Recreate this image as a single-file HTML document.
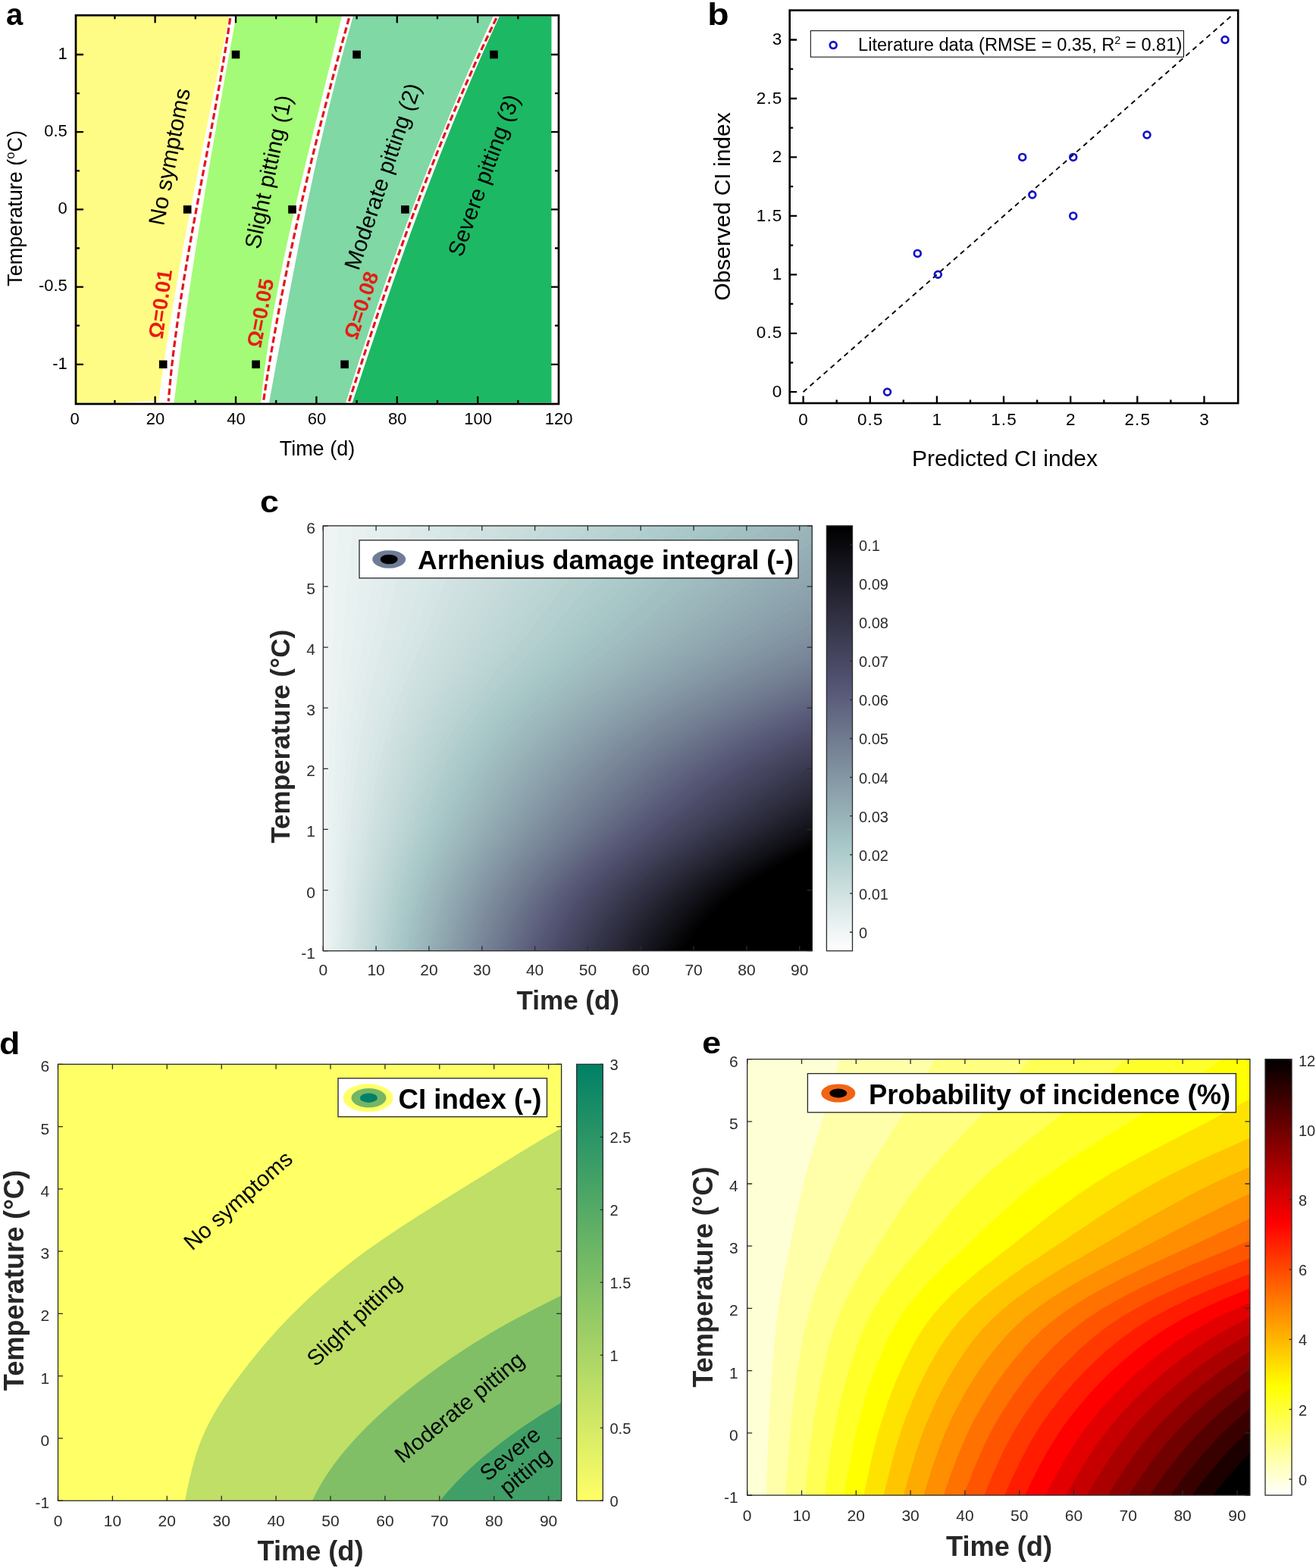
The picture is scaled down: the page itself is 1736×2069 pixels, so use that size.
<!DOCTYPE html>
<html lang="en"><head><meta charset="utf-8"><title>Chilling injury model figure</title>
<style>html,body{margin:0;padding:0;background:#fff}svg{display:block}text{font-family:"Liberation Sans",sans-serif}</style>
</head><body>
<svg xmlns="http://www.w3.org/2000/svg" width="1736" height="2069" viewBox="0 0 1736 2069">
<rect width="1736" height="2069" fill="#fff"/>
<defs>
<linearGradient id="gc" x1="0" y1="1" x2="0" y2="0"><stop offset="0.0000" stop-color="#ffffff"/><stop offset="0.2500" stop-color="#a7c7c7"/><stop offset="0.6250" stop-color="#545474"/><stop offset="1.0000" stop-color="#000000"/></linearGradient>
<linearGradient id="gd" x1="0" y1="1" x2="0" y2="0"><stop offset="0.0000" stop-color="#ffff66"/><stop offset="1.0000" stop-color="#008066"/></linearGradient>
<linearGradient id="ge" x1="0" y1="1" x2="0" y2="0"><stop offset="0.0000" stop-color="#ffffff"/><stop offset="0.2500" stop-color="#ffff00"/><stop offset="0.6250" stop-color="#ff0000"/><stop offset="1.0000" stop-color="#000000"/></linearGradient>
</defs>
<g id="panel-a">
<polygon points="100.5,21.5 100.5,41.9 100.5,62.3 100.5,82.7 100.5,103.1 100.5,123.5 100.5,143.9 100.5,164.3 100.5,184.7 100.5,205.1 100.5,225.5 100.5,245.9 100.5,266.3 100.5,286.7 100.5,307.1 100.5,327.5 100.5,347.9 100.5,368.3 100.5,388.7 100.5,409.1 100.5,429.5 100.5,449.9 100.5,470.3 100.5,490.7 100.5,511.1 100.5,531.5 209.1,531.5 211.8,511.1 214.6,490.7 217.6,470.3 220.7,449.9 223.9,429.5 227.3,409.1 230.7,388.7 234.3,368.3 237.9,347.9 241.6,327.5 245.4,307.1 249.3,286.7 253.2,266.3 257.2,245.9 261.2,225.5 265.3,205.1 269.4,184.7 273.5,164.3 277.6,143.9 281.7,123.5 285.8,103.1 289.9,82.7 294,62.3 298.1,41.9 302.1,21.5" fill="#fffc86"/>
<polygon points="311.5,21.5 307.7,41.9 304,62.3 300.3,82.7 296.6,103.1 293,123.5 289.3,143.9 285.7,164.3 282.2,184.7 278.6,205.1 275.2,225.5 271.7,245.9 268.3,266.3 265,286.7 261.7,307.1 258.4,327.5 255.2,347.9 252.1,368.3 249,388.7 246,409.1 243.1,429.5 240.2,449.9 237.5,470.3 234.8,490.7 232.2,511.1 229.6,531.5 344,531.5 346.2,511.1 348.6,490.7 351.4,470.3 354.4,449.9 357.7,429.5 361.2,409.1 365,388.7 368.9,368.3 373,347.9 377.3,327.5 381.8,307.1 386.4,286.7 391.1,266.3 395.9,245.9 400.8,225.5 405.8,205.1 410.8,184.7 415.8,164.3 420.9,143.9 426,123.5 431,103.1 436.1,82.7 441,62.3 445.9,41.9 450.8,21.5" fill="#a4fb77"/>
<polygon points="465.8,21.5 460,41.9 454.4,62.3 448.9,82.7 443.6,103.1 438.5,123.5 433.4,143.9 428.6,164.3 423.8,184.7 419.1,205.1 414.6,225.5 410.2,245.9 405.8,266.3 401.6,286.7 397.4,307.1 393.3,327.5 389.3,347.9 385.4,368.3 381.4,388.7 377.6,409.1 373.8,429.5 370,449.9 366.2,470.3 362.4,490.7 358.7,511.1 354.9,531.5 456.2,531.5 462.6,511.1 469,490.7 475.6,470.3 482.3,449.9 489,429.5 495.9,409.1 502.9,388.7 510,368.3 517.3,347.9 524.6,327.5 532.1,307.1 539.7,286.7 547.4,266.3 555.3,245.9 563.2,225.5 571.4,205.1 579.6,184.7 588,164.3 596.5,143.9 605.2,123.5 614,103.1 623,82.7 632.1,62.3 641.3,41.9 650.8,21.5" fill="#80d8a5"/>
<polygon points="658.8,21.5 649.4,41.9 640.2,62.3 631.2,82.7 622.4,103.1 613.7,123.5 605.1,143.9 596.8,164.3 588.5,184.7 580.4,205.1 572.5,225.5 564.6,245.9 556.9,266.3 549.3,286.7 541.8,307.1 534.4,327.5 527.1,347.9 519.9,368.3 512.8,388.7 505.7,409.1 498.8,429.5 491.9,449.9 485,470.3 478.2,490.7 471.5,511.1 464.8,531.5 727.5,531.5 727.5,511.1 727.5,490.7 727.5,470.3 727.5,449.9 727.5,429.5 727.5,409.1 727.5,388.7 727.5,368.3 727.5,347.9 727.5,327.5 727.5,307.1 727.5,286.7 727.5,266.3 727.5,245.9 727.5,225.5 727.5,205.1 727.5,184.7 727.5,164.3 727.5,143.9 727.5,123.5 727.5,103.1 727.5,82.7 727.5,62.3 727.5,41.9 727.5,21.5" fill="#1db863"/>
<polygon points="150,531.8 209,531.8 209.5,529 190,529.6" fill="#fff"/>
<path d="M303.7 24 L300.7 44.2 L297.5 64.4 L294.1 84.7 L290.7 104.9 L287.1 125.1 L283.5 145.3 L279.7 165.5 L276 185.8 L272.2 206 L268.3 226.2 L264.5 246.4 L260.8 266.6 L257 286.9 L253.3 307.1 L249.7 327.3 L246.2 347.5 L242.8 367.7 L239.6 388 L236.5 408.2 L233.6 428.4 L230.9 448.6 L228.3 468.8 L226 489.1 L224 509.3 L222.2 529.5" fill="none" stroke="#e3141c" stroke-width="3.2" stroke-dasharray="8.5 4.2"/>
<path d="M460.4 24 L454.8 44.2 L449.2 64.4 L443.7 84.7 L438.3 104.9 L433 125.1 L427.7 145.3 L422.5 165.5 L417.4 185.8 L412.4 206 L407.5 226.2 L402.7 246.4 L398 266.6 L393.4 286.9 L388.9 307.1 L384.5 327.3 L380.2 347.5 L376.1 367.7 L372 388 L368.1 408.2 L364.4 428.4 L360.7 448.6 L357.2 468.8 L353.8 489.1 L350.6 509.3 L347.5 529.5" fill="none" stroke="#e3141c" stroke-width="3.2" stroke-dasharray="8.5 4.2"/>
<path d="M654.7 24 L645.1 44.2 L635.6 64.4 L626.4 84.7 L617.4 104.9 L608.5 125.1 L599.8 145.3 L591.3 165.5 L583 185.8 L574.8 206 L566.8 226.2 L558.9 246.4 L551.2 266.6 L543.6 286.9 L536.1 307.1 L528.8 327.3 L521.5 347.5 L514.4 367.7 L507.4 388 L500.4 408.2 L493.6 428.4 L486.8 448.6 L480.2 468.8 L473.6 489.1 L467 509.3 L460.5 529.5" fill="none" stroke="#e3141c" stroke-width="3.2" stroke-dasharray="8.5 4.2"/>
<rect x="209.9" y="475.5" width="10.6" height="10.6" fill="#000"/>
<rect x="241.9" y="271.1" width="10.6" height="10.6" fill="#000"/>
<rect x="305.7" y="66.7" width="10.6" height="10.6" fill="#000"/>
<rect x="332.3" y="475.5" width="10.6" height="10.6" fill="#000"/>
<rect x="380.2" y="271.1" width="10.6" height="10.6" fill="#000"/>
<rect x="465.3" y="66.7" width="10.6" height="10.6" fill="#000"/>
<rect x="449.3" y="475.5" width="10.6" height="10.6" fill="#000"/>
<rect x="529.1" y="271.1" width="10.6" height="10.6" fill="#000"/>
<rect x="646.2" y="66.7" width="10.6" height="10.6" fill="#000"/>
<rect x="100.0" y="20.2" width="637.0" height="512.8" fill="none" stroke="#000" stroke-width="2.7"/>
<path d="M151.4 533v-5M151.4 20.2v5M204.6 533v-10M204.6 20.2v10M257.8 533v-5M257.8 20.2v5M311 533v-10M311 20.2v10M364.2 533v-5M364.2 20.2v5M417.4 533v-10M417.4 20.2v10M470.6 533v-5M470.6 20.2v5M523.8 533v-10M523.8 20.2v10M577 533v-5M577 20.2v5M630.2 533v-10M630.2 20.2v10M683.4 533v-5M683.4 20.2v5M100 480.8h10M737 480.8h-10M100 429.7h5M737 429.7h-5M100 378.6h10M737 378.6h-10M100 327.5h5M737 327.5h-5M100 276.4h10M737 276.4h-10M100 225.3h5M737 225.3h-5M100 174.2h10M737 174.2h-10M100 123.1h5M737 123.1h-5M100 72h10M737 72h-10" stroke="#000" stroke-width="2.3" fill="none"/>
<text x="98.7" y="560.2" font-size="22" text-anchor="middle" fill="#000">0</text>
<text x="205.1" y="560.2" font-size="22" text-anchor="middle" fill="#000">20</text>
<text x="311.5" y="560.2" font-size="22" text-anchor="middle" fill="#000">40</text>
<text x="417.9" y="560.2" font-size="22" text-anchor="middle" fill="#000">60</text>
<text x="524.3" y="560.2" font-size="22" text-anchor="middle" fill="#000">80</text>
<text x="630.7" y="560.2" font-size="22" text-anchor="middle" fill="#000">100</text>
<text x="737.1" y="560.2" font-size="22" text-anchor="middle" fill="#000">120</text>
<text x="88.8" y="77.8" font-size="22" text-anchor="end" fill="#000">1</text>
<text x="88.8" y="180" font-size="22" text-anchor="end" fill="#000">0.5</text>
<text x="88.8" y="282.2" font-size="22" text-anchor="end" fill="#000">0</text>
<text x="88.8" y="384.4" font-size="22" text-anchor="end" fill="#000">-0.5</text>
<text x="88.8" y="486.6" font-size="22" text-anchor="end" fill="#000">-1</text>
<text x="418.4" y="600.6" font-size="27" text-anchor="middle" fill="#000">Time (d)</text>
<text transform="translate(28.6 274.9) rotate(-90)" font-size="27" text-anchor="middle">Temperature (<tspan font-size="16.5" dy="-9.5">o</tspan><tspan dy="9.5">C)</tspan></text>
<text x="8.1" y="33" font-size="40" font-weight="bold" fill="#000">a</text>
<text transform="translate(216 298.8) rotate(-79.00)" font-size="30" fill="#000">No symptoms</text>
<text transform="translate(342.4 329.8) rotate(-78.00)" font-size="29.7" fill="#000">Slight pitting (1)</text>
<text transform="translate(473 357.9) rotate(-71.25)" font-size="29.7" fill="#000">Moderate pitting (2)</text>
<text transform="translate(609.2 340.3) rotate(-70.00)" font-size="29.5" fill="#000">Severe pitting (3)</text>
<text transform="translate(214.5 447.7) rotate(-82.00)" font-size="27.5" font-weight="bold" fill="#e81c14">Ω=0.01</text>
<text transform="translate(343.9 459.8) rotate(-79.00)" font-size="27.5" font-weight="bold" fill="#e81c14">Ω=0.05</text>
<text transform="translate(471.1 449.2) rotate(-71.75)" font-size="27.5" font-weight="bold" fill="#e81c14">Ω=0.08</text>
</g>
<g id="panel-b">
<path d="M1059.6 517.2L1626.4 19.2" stroke="#000" stroke-width="1.9" stroke-dasharray="6.5 5.5" fill="none"/>
<rect x="1069.3" y="40.6" width="492.2" height="34.6" fill="#fff" stroke="#000" stroke-width="1"/>
<circle cx="1099.2" cy="59.6" r="4.4" fill="#fff" stroke="#1212c4" stroke-width="2.7"/>
<text x="1132" y="66.8" font-size="23.65">Literature data (RMSE = 0.35, R<tspan font-size="14.5" dy="-9">2</tspan><tspan dy="9"> = 0.81)</tspan></text>
<circle cx="1170.5" cy="517.2" r="4.4" fill="none" stroke="#1212c4" stroke-width="2.7"/>
<circle cx="1210.3" cy="334.4" r="4.4" fill="none" stroke="#1212c4" stroke-width="2.7"/>
<circle cx="1237.3" cy="362.3" r="4.4" fill="none" stroke="#1212c4" stroke-width="2.7"/>
<circle cx="1348.7" cy="207.4" r="4.4" fill="none" stroke="#1212c4" stroke-width="2.7"/>
<circle cx="1361.8" cy="257" r="4.4" fill="none" stroke="#1212c4" stroke-width="2.7"/>
<circle cx="1415.7" cy="207.4" r="4.4" fill="none" stroke="#1212c4" stroke-width="2.7"/>
<circle cx="1415.7" cy="284.9" r="4.4" fill="none" stroke="#1212c4" stroke-width="2.7"/>
<circle cx="1513" cy="178" r="4.4" fill="none" stroke="#1212c4" stroke-width="2.7"/>
<circle cx="1616" cy="52.5" r="4.4" fill="none" stroke="#1212c4" stroke-width="2.7"/>
<rect x="1041.7" y="13.6" width="591.5" height="518.4" fill="none" stroke="#000" stroke-width="2.6"/>
<path d="M1059.6 532v-9.5M1041.7 517.2h9.5M1103.7 532v-4.5M1041.7 478.5h4.5M1147.8 532v-9.5M1041.7 439.8h9.5M1191.8 532v-4.5M1041.7 401h4.5M1235.9 532v-9.5M1041.7 362.3h9.5M1280 532v-4.5M1041.7 323.6h4.5M1324 532v-9.5M1041.7 284.9h9.5M1368.1 532v-4.5M1041.7 246.1h4.5M1412.2 532v-9.5M1041.7 207.4h9.5M1456.3 532v-4.5M1041.7 168.7h4.5M1500.3 532v-9.5M1041.7 130h9.5M1544.4 532v-4.5M1041.7 91.2h4.5M1588.5 532v-9.5M1041.7 52.5h9.5" stroke="#000" stroke-width="2.3" fill="none"/>
<text x="1060.1" y="560.6" font-size="22.5" text-anchor="middle" fill="#000" letter-spacing="1.1">0</text>
<text x="1032.4" y="523.8" font-size="22.5" text-anchor="end" fill="#000" letter-spacing="1.1">0</text>
<text x="1148.2" y="560.6" font-size="22.5" text-anchor="middle" fill="#000" letter-spacing="1.1">0.5</text>
<text x="1032.4" y="446.4" font-size="22.5" text-anchor="end" fill="#000" letter-spacing="1.1">0.5</text>
<text x="1236.4" y="560.6" font-size="22.5" text-anchor="middle" fill="#000" letter-spacing="1.1">1</text>
<text x="1032.4" y="368.9" font-size="22.5" text-anchor="end" fill="#000" letter-spacing="1.1">1</text>
<text x="1324.5" y="560.6" font-size="22.5" text-anchor="middle" fill="#000" letter-spacing="1.1">1.5</text>
<text x="1032.4" y="291.5" font-size="22.5" text-anchor="end" fill="#000" letter-spacing="1.1">1.5</text>
<text x="1412.7" y="560.6" font-size="22.5" text-anchor="middle" fill="#000" letter-spacing="1.1">2</text>
<text x="1032.4" y="214" font-size="22.5" text-anchor="end" fill="#000" letter-spacing="1.1">2</text>
<text x="1500.8" y="560.6" font-size="22.5" text-anchor="middle" fill="#000" letter-spacing="1.1">2.5</text>
<text x="1032.4" y="136.6" font-size="22.5" text-anchor="end" fill="#000" letter-spacing="1.1">2.5</text>
<text x="1589" y="560.6" font-size="22.5" text-anchor="middle" fill="#000" letter-spacing="1.1">3</text>
<text x="1032.4" y="59.1" font-size="22.5" text-anchor="end" fill="#000" letter-spacing="1.1">3</text>
<text x="1325.5" y="614.5" font-size="30" text-anchor="middle" fill="#000">Predicted CI index</text>
<text x="0" y="0" transform="translate(963 272.5) rotate(-90)" font-size="30" text-anchor="middle" fill="#000">Observed CI index</text>
<text transform="translate(933.2 33.2) scale(1.16 1)" font-size="40" font-weight="bold">b</text>
</g>
<g id="panel-c">
<rect x="426.3" y="693.8" width="644.9" height="560.9" fill="#eef4f4"/>
<polygon points="430.3,1254.7 430.4,1234.7 430.5,1214.6 430.7,1194.6 430.9,1174.6 431.2,1154.5 431.4,1134.5 431.8,1114.5 432.1,1094.4 432.5,1074.4 432.8,1054.4 433.1,1034.3 433.5,1014.3 434,994.3 434.5,974.2 435.1,954.2 435.8,934.2 436.5,914.2 437.4,894.1 438.2,874.1 439,854.1 439.9,834 440.6,814 441.4,794 442.2,773.9 443,753.9 443.9,733.9 444.9,713.8 445.9,693.8 1071.2,693.8 1071.2,1254.7" fill="#ebf2f2"/>
<polygon points="434.2,1254.7 434.5,1234.7 434.8,1214.6 435.1,1194.6 435.5,1174.6 436,1154.5 436.6,1134.5 437.3,1114.5 437.9,1094.4 438.6,1074.4 439.3,1054.4 440,1034.3 440.8,1014.3 441.7,994.3 442.7,974.2 443.9,954.2 445.3,934.2 446.8,914.2 448.4,894.1 450.1,874.1 451.8,854.1 453.4,834 455,814 456.5,794 458.1,773.9 459.8,753.9 461.6,733.9 463.5,713.8 465.5,693.8 1071.2,693.8 1071.2,1254.7" fill="#e8f0f0"/>
<polygon points="438.2,1254.7 438.6,1234.7 439,1214.6 439.5,1194.6 440.1,1174.6 440.9,1154.5 441.7,1134.5 442.7,1114.5 443.7,1094.4 444.8,1074.4 445.8,1054.4 446.8,1034.3 448,1014.3 449.4,994.3 451,974.2 452.8,954.2 454.8,934.2 457,914.2 459.5,894.1 462,874.1 464.5,854.1 467,834 469.3,814 471.6,794 474,773.9 476.5,753.9 479.2,733.9 482,713.8 485.1,693.8 1071.2,693.8 1071.2,1254.7" fill="#e5efef"/>
<polygon points="442.1,1254.7 442.6,1234.7 443.2,1214.6 443.9,1194.6 444.7,1174.6 445.7,1154.5 446.9,1134.5 448.2,1114.5 449.6,1094.4 450.9,1074.4 452.3,1054.4 453.7,1034.3 455.3,1014.3 457.1,994.3 459.2,974.2 461.6,954.2 464.3,934.2 467.3,914.2 470.5,894.1 473.9,874.1 477.3,854.1 480.5,834 483.6,814 486.7,794 489.8,773.9 493.2,753.9 496.8,733.9 500.6,713.8 504.7,693.8 1071.2,693.8 1071.2,1254.7" fill="#e3eded"/>
<polygon points="446.1,1254.7 446.7,1234.7 447.4,1214.6 448.3,1194.6 449.3,1174.6 450.6,1154.5 452,1134.5 453.7,1114.5 455.4,1094.4 457.1,1074.4 458.7,1054.4 460.5,1034.3 462.5,1014.3 464.8,994.3 467.4,974.2 470.4,954.2 473.8,934.2 477.5,914.2 481.6,894.1 485.8,874.1 490,854.1 494.1,834 498,814 501.8,794 505.7,773.9 509.9,753.9 514.4,733.9 519.2,713.8 524.3,693.8 1071.2,693.8 1071.2,1254.7" fill="#e0ebeb"/>
<polygon points="450,1254.7 450.8,1234.7 451.7,1214.6 452.7,1194.6 453.9,1174.6 455.4,1154.5 457.2,1134.5 459.2,1114.5 461.2,1094.4 463.2,1074.4 465.2,1054.4 467.4,1034.3 469.8,1014.3 472.5,994.3 475.6,974.2 479.2,954.2 483.3,934.2 487.8,914.2 492.6,894.1 497.7,874.1 502.8,854.1 507.6,834 512.3,814 516.9,794 521.6,773.9 526.7,753.9 532.1,733.9 537.8,713.8 543.9,693.8 1071.2,693.8 1071.2,1254.7" fill="#dde9e9"/>
<polygon points="454,1254.7 454.9,1234.7 455.9,1214.6 457,1194.6 458.5,1174.6 460.3,1154.5 462.3,1134.5 464.6,1114.5 467,1094.4 469.4,1074.4 471.7,1054.4 474.2,1034.3 477,1014.3 480.2,994.3 483.9,974.2 488,954.2 492.7,934.2 498,914.2 503.7,894.1 509.6,874.1 515.5,854.1 521.2,834 526.6,814 532,794 537.5,773.9 543.4,753.9 549.7,733.9 556.4,713.8 563.5,693.8 1071.2,693.8 1071.2,1254.7" fill="#dae8e8"/>
<polygon points="458,1254.7 459,1234.7 460.1,1214.6 461.4,1194.6 463.1,1174.6 465.1,1154.5 467.5,1134.5 470.1,1114.5 472.8,1094.4 475.5,1074.4 478.2,1054.4 481.1,1034.3 484.3,1014.3 487.9,994.3 492.1,974.2 496.9,954.2 502.2,934.2 508.2,914.2 514.7,894.1 521.5,874.1 528.3,854.1 534.7,834 540.9,814 547.1,794 553.4,773.9 560.1,753.9 567.3,733.9 575,713.8 583.1,693.8 1071.2,693.8 1071.2,1254.7" fill="#d7e6e6"/>
<polygon points="461.9,1254.7 463.1,1234.7 464.3,1214.6 465.8,1194.6 467.7,1174.6 470,1154.5 472.6,1134.5 475.6,1114.5 478.6,1094.4 481.7,1074.4 484.7,1054.4 487.9,1034.3 491.5,1014.3 495.6,994.3 500.3,974.2 505.7,954.2 511.7,934.2 518.5,914.2 525.8,894.1 533.4,874.1 541,854.1 548.3,834 555.3,814 562.2,794 569.3,773.9 576.8,753.9 584.9,733.9 593.5,713.8 602.7,693.8 1071.2,693.8 1071.2,1254.7" fill="#d5e4e4"/>
<polygon points="465.9,1254.7 467.1,1234.7 468.6,1214.6 470.2,1194.6 472.3,1174.6 474.8,1154.5 477.8,1134.5 481.1,1114.5 484.4,1094.4 487.8,1074.4 491.2,1054.4 494.8,1034.3 498.8,1014.3 503.3,994.3 508.5,974.2 514.5,954.2 521.2,934.2 528.7,914.2 536.9,894.1 545.3,874.1 553.8,854.1 561.9,834 569.6,814 577.3,794 585.2,773.9 593.6,753.9 602.6,733.9 612.1,713.8 622.3,693.8 1071.2,693.8 1071.2,1254.7" fill="#d2e2e2"/>
<polygon points="469.8,1254.7 471.2,1234.7 472.8,1214.6 474.6,1194.6 476.9,1174.6 479.7,1154.5 482.9,1134.5 486.5,1114.5 490.3,1094.4 494,1074.4 497.7,1054.4 501.6,1034.3 506,1014.3 511,994.3 516.8,974.2 523.3,954.2 530.7,934.2 539,914.2 547.9,894.1 557.2,874.1 566.5,854.1 575.4,834 583.9,814 592.4,794 601,773.9 610.3,753.9 620.2,733.9 630.7,713.8 641.9,693.8 1071.2,693.8 1071.2,1254.7" fill="#cfe0e0"/>
<polygon points="473.8,1254.7 475.3,1234.7 477,1214.6 479,1194.6 481.5,1174.6 484.5,1154.5 488.1,1134.5 492,1114.5 496.1,1094.4 500.1,1074.4 504.2,1054.4 508.5,1034.3 513.2,1014.3 518.7,994.3 525,974.2 532.1,954.2 540.2,934.2 549.2,914.2 559,894.1 569.1,874.1 579.3,854.1 589,834 598.3,814 607.5,794 616.9,773.9 627,753.9 637.8,733.9 649.3,713.8 661.5,693.8 1071.2,693.8 1071.2,1254.7" fill="#ccdfdf"/>
<polygon points="477.7,1254.7 479.4,1234.7 481.2,1214.6 483.4,1194.6 486.1,1174.6 489.4,1154.5 493.2,1134.5 497.5,1114.5 501.9,1094.4 506.3,1074.4 510.7,1054.4 515.3,1034.3 520.5,1014.3 526.4,994.3 533.2,974.2 541,954.2 549.7,934.2 559.4,914.2 570,894.1 581,874.1 592,854.1 602.5,834 612.6,814 622.6,794 632.8,773.9 643.7,753.9 655.4,733.9 667.9,713.8 681.1,693.8 1071.2,693.8 1071.2,1254.7" fill="#c9dddd"/>
<polygon points="481.7,1254.7 483.5,1234.7 485.5,1214.6 487.8,1194.6 490.7,1174.6 494.2,1154.5 498.4,1134.5 503,1114.5 507.7,1094.4 512.4,1074.4 517.2,1054.4 522.2,1034.3 527.7,1014.3 534.1,994.3 541.4,974.2 549.8,954.2 559.2,934.2 569.7,914.2 581.1,894.1 592.9,874.1 604.8,854.1 616.1,834 626.9,814 637.7,794 648.7,773.9 660.5,753.9 673.1,733.9 686.5,713.8 700.7,693.8 1071.2,693.8 1071.2,1254.7" fill="#c7dbdb"/>
<polygon points="485.7,1254.7 487.6,1234.7 489.7,1214.6 492.2,1194.6 495.3,1174.6 499.1,1154.5 503.5,1134.5 508.4,1114.5 513.5,1094.4 518.6,1074.4 523.6,1054.4 529,1034.3 535,1014.3 541.8,994.3 549.7,974.2 558.6,954.2 568.7,934.2 579.9,914.2 592.1,894.1 604.8,874.1 617.5,854.1 629.6,834 641.3,814 652.8,794 664.6,773.9 677.2,753.9 690.7,733.9 705,713.8 720.3,693.8 1071.2,693.8 1071.2,1254.7" fill="#c4d9d9"/>
<polygon points="489.6,1254.7 491.6,1234.7 493.9,1214.6 496.6,1194.6 499.9,1174.6 503.9,1154.5 508.7,1134.5 513.9,1114.5 519.3,1094.4 524.7,1074.4 530.1,1054.4 535.9,1034.3 542.2,1014.3 549.5,994.3 557.9,974.2 567.4,954.2 578.2,934.2 590.2,914.2 603.2,894.1 616.8,874.1 630.3,854.1 643.2,834 655.6,814 667.9,794 680.5,773.9 693.9,753.9 708.3,733.9 723.6,713.8 739.9,693.8 1071.2,693.8 1071.2,1254.7" fill="#c1d8d8"/>
<polygon points="493.6,1254.7 495.7,1234.7 498.1,1214.6 501,1194.6 504.5,1174.6 508.8,1154.5 513.8,1134.5 519.4,1114.5 525.2,1094.4 530.9,1074.4 536.6,1054.4 542.7,1034.3 549.5,1014.3 557.2,994.3 566.1,974.2 576.2,954.2 587.7,934.2 600.4,914.2 614.2,894.1 628.7,874.1 643,854.1 656.7,834 669.9,814 683,794 696.4,773.9 710.6,753.9 725.9,733.9 742.2,713.8 759.5,693.8 1071.2,693.8 1071.2,1254.7" fill="#bed6d6"/>
<polygon points="497.5,1254.7 499.8,1234.7 502.4,1214.6 505.4,1194.6 509,1174.6 513.6,1154.5 519,1134.5 524.9,1114.5 531,1094.4 537,1074.4 543.1,1054.4 549.6,1034.3 556.7,1014.3 564.9,994.3 574.3,974.2 585.1,954.2 597.2,934.2 610.7,914.2 625.3,894.1 640.6,874.1 655.8,854.1 670.3,834 684.3,814 698.1,794 712.2,773.9 727.4,753.9 743.6,733.9 760.8,713.8 779.1,693.8 1071.2,693.8 1071.2,1254.7" fill="#bbd4d4"/>
<polygon points="501.5,1254.7 503.9,1234.7 506.6,1214.6 509.8,1194.6 513.6,1174.6 518.5,1154.5 524.1,1134.5 530.3,1114.5 536.8,1094.4 543.2,1074.4 549.6,1054.4 556.4,1034.3 564,1014.3 572.6,994.3 582.6,974.2 593.9,954.2 606.6,934.2 620.9,914.2 636.4,894.1 652.5,874.1 668.5,854.1 683.9,834 698.6,814 713.1,794 728.1,773.9 744.1,753.9 761.2,733.9 779.4,713.8 798.7,693.8 1071.2,693.8 1071.2,1254.7" fill="#b9d2d2"/>
<polygon points="505.4,1254.7 508,1234.7 510.8,1214.6 514.1,1194.6 518.2,1174.6 523.3,1154.5 529.3,1134.5 535.8,1114.5 542.6,1094.4 549.3,1074.4 556.1,1054.4 563.3,1034.3 571.2,1014.3 580.3,994.3 590.8,974.2 602.7,954.2 616.1,934.2 631.1,914.2 647.4,894.1 664.4,874.1 681.3,854.1 697.4,834 712.9,814 728.2,794 744,773.9 760.8,753.9 778.8,733.9 798,713.8 818.3,693.8 1071.2,693.8 1071.2,1254.7" fill="#b6d0d0"/>
<polygon points="509.4,1254.7 512.1,1234.7 515,1214.6 518.5,1194.6 522.8,1174.6 528.2,1154.5 534.4,1134.5 541.3,1114.5 548.4,1094.4 555.5,1074.4 562.6,1054.4 570.1,1034.3 578.5,1014.3 588,994.3 599,974.2 611.5,954.2 625.6,934.2 641.4,914.2 658.5,894.1 676.3,874.1 694,854.1 711,834 727.2,814 743.3,794 759.9,773.9 777.5,753.9 796.4,733.9 816.5,713.8 837.9,693.8 1071.2,693.8 1071.2,1254.7" fill="#b3cfcf"/>
<polygon points="513.3,1254.7 516.2,1234.7 519.3,1214.6 522.9,1194.6 527.4,1174.6 533,1154.5 539.6,1134.5 546.8,1114.5 554.2,1094.4 561.6,1074.4 569.1,1054.4 577,1034.3 585.7,1014.3 595.7,994.3 607.2,974.2 620.3,954.2 635.1,934.2 651.6,914.2 669.5,894.1 688.2,874.1 706.8,854.1 724.5,834 741.6,814 758.4,794 775.8,773.9 794.3,753.9 814.1,733.9 835.1,713.8 857.5,693.8 1071.2,693.8 1071.2,1254.7" fill="#b0cdcd"/>
<polygon points="517.3,1254.7 520.2,1234.7 523.5,1214.6 527.3,1194.6 532,1174.6 537.9,1154.5 544.7,1134.5 552.2,1114.5 560,1094.4 567.8,1074.4 575.6,1054.4 583.8,1034.3 593,1014.3 603.4,994.3 615.5,974.2 629.2,954.2 644.6,934.2 661.9,914.2 680.6,894.1 700.1,874.1 719.5,854.1 738.1,834 755.9,814 773.5,794 791.7,773.9 811,753.9 831.7,733.9 853.7,713.8 877,693.8 1071.2,693.8 1071.2,1254.7" fill="#aecbcb"/>
<polygon points="521.3,1254.7 524.3,1234.7 527.7,1214.6 531.7,1194.6 536.6,1174.6 542.7,1154.5 549.9,1134.5 557.7,1114.5 565.9,1094.4 573.9,1074.4 582.1,1054.4 590.7,1034.3 600.2,1014.3 611.1,994.3 623.7,974.2 638,954.2 654.1,934.2 672.1,914.2 691.6,894.1 712,874.1 732.3,854.1 751.6,834 770.2,814 788.6,794 807.6,773.9 827.7,753.9 849.3,733.9 872.3,713.8 896.6,693.8 1071.2,693.8 1071.2,1254.7" fill="#abc9c9"/>
<polygon points="525.2,1254.7 528.4,1234.7 531.9,1214.6 536.1,1194.6 541.2,1174.6 547.6,1154.5 555,1134.5 563.2,1114.5 571.7,1094.4 580.1,1074.4 588.5,1054.4 597.5,1034.3 607.4,1014.3 618.8,994.3 631.9,974.2 646.8,954.2 663.6,934.2 682.4,914.2 702.7,894.1 723.9,874.1 745,854.1 765.2,834 784.6,814 803.7,794 823.4,773.9 844.5,753.9 866.9,733.9 890.9,713.8 916.2,693.8 1071.2,693.8 1071.2,1254.7" fill="#a8c8c8"/>
<polygon points="529.2,1254.7 532.5,1234.7 536.2,1214.6 540.5,1194.6 545.8,1174.6 552.4,1154.5 560.2,1134.5 568.7,1114.5 577.5,1094.4 586.2,1074.4 595,1054.4 604.4,1034.3 614.7,1014.3 626.6,994.3 640.1,974.2 655.6,954.2 673.1,934.2 692.6,914.2 713.7,894.1 735.8,874.1 757.8,854.1 778.7,834 798.9,814 818.8,794 839.3,773.9 861.2,753.9 884.6,733.9 909.5,713.8 935.8,693.8 1071.2,693.8 1071.2,1254.7" fill="#a6c5c6"/>
<polygon points="533.1,1254.7 536.6,1234.7 540.4,1214.6 544.9,1194.6 550.4,1174.6 557.3,1154.5 565.3,1134.5 574.1,1114.5 583.3,1094.4 592.4,1074.4 601.5,1054.4 611.2,1034.3 621.9,1014.3 634.3,994.3 648.4,974.2 664.4,954.2 682.6,934.2 702.8,914.2 724.8,894.1 747.7,874.1 770.5,854.1 792.3,834 813.2,814 833.9,794 855.2,773.9 877.9,753.9 902.2,733.9 928,713.8 955.4,693.8 1071.2,693.8 1071.2,1254.7" fill="#a4c3c4"/>
<polygon points="537.1,1254.7 540.7,1234.7 544.6,1214.6 549.3,1194.6 555,1174.6 562.1,1154.5 570.5,1134.5 579.6,1114.5 589.1,1094.4 598.5,1074.4 608,1054.4 618.1,1034.3 629.2,1014.3 642,994.3 656.6,974.2 673.3,954.2 692.1,934.2 713.1,914.2 735.9,894.1 759.6,874.1 783.3,854.1 805.9,834 827.6,814 849,794 871.1,773.9 894.6,753.9 919.8,733.9 946.6,713.8 975,693.8 1071.2,693.8 1071.2,1254.7" fill="#a2c0c2"/>
<polygon points="541,1254.7 544.7,1234.7 548.8,1214.6 553.7,1194.6 559.6,1174.6 567,1154.5 575.6,1134.5 585.1,1114.5 594.9,1094.4 604.7,1074.4 614.5,1054.4 624.9,1034.3 636.4,1014.3 649.7,994.3 664.8,974.2 682.1,954.2 701.6,934.2 723.3,914.2 746.9,894.1 771.5,874.1 796,854.1 819.4,834 841.9,814 864.1,794 887,773.9 911.4,753.9 937.4,733.9 965.2,713.8 994.6,693.8 1071.2,693.8 1071.2,1254.7" fill="#a1bec0"/>
<polygon points="545,1254.7 548.8,1234.7 553.1,1214.6 558.1,1194.6 564.2,1174.6 571.8,1154.5 580.8,1134.5 590.6,1114.5 600.7,1094.4 610.8,1074.4 621,1054.4 631.8,1034.3 643.7,1014.3 657.4,994.3 673,974.2 690.9,954.2 711.1,934.2 733.6,914.2 758,894.1 783.4,874.1 808.8,854.1 833,834 856.2,814 879.2,794 902.9,773.9 928.1,753.9 955.1,733.9 983.8,713.8 1014.2,693.8 1071.2,693.8 1071.2,1254.7" fill="#9fbbbf"/>
<polygon points="549,1254.7 552.9,1234.7 557.3,1214.6 562.5,1194.6 568.8,1174.6 576.7,1154.5 585.9,1134.5 596,1114.5 606.6,1094.4 617,1074.4 627.5,1054.4 638.6,1034.3 650.9,1014.3 665.1,994.3 681.3,974.2 699.7,954.2 720.5,934.2 743.8,914.2 769,894.1 795.3,874.1 821.5,854.1 846.5,834 870.6,814 894.3,794 918.8,773.9 944.8,753.9 972.7,733.9 1002.4,713.8 1033.8,693.8 1071.2,693.8 1071.2,1254.7" fill="#9db9bd"/>
<polygon points="552.9,1254.7 557,1234.7 561.5,1214.6 566.9,1194.6 573.4,1174.6 581.5,1154.5 591.1,1134.5 601.5,1114.5 612.4,1094.4 623.1,1074.4 634,1054.4 645.4,1034.3 658.2,1014.3 672.8,994.3 689.5,974.2 708.5,954.2 730,934.2 754.1,914.2 780.1,894.1 807.2,874.1 834.3,854.1 860.1,834 884.9,814 909.4,794 934.6,773.9 961.5,753.9 990.3,733.9 1021,713.8 1053.4,693.8 1071.2,693.8 1071.2,1254.7" fill="#9bb7bb"/>
<polygon points="556.9,1254.7 561.1,1234.7 565.7,1214.6 571.2,1194.6 578,1174.6 586.4,1154.5 596.2,1134.5 607,1114.5 618.2,1094.4 629.3,1074.4 640.5,1054.4 652.3,1034.3 665.4,1014.3 680.5,994.3 697.7,974.2 717.4,954.2 739.5,934.2 764.3,914.2 791.1,894.1 819.1,874.1 847,854.1 873.6,834 899.2,814 924.5,794 950.5,773.9 978.3,753.9 1007.9,733.9 1039.5,713.8 1071.2,694.9 1071.2,1254.7" fill="#9ab4b9"/>
<polygon points="560.8,1254.7 565.2,1234.7 570,1214.6 575.6,1194.6 582.6,1174.6 591.2,1154.5 601.3,1134.5 612.5,1114.5 624,1094.4 635.4,1074.4 647,1054.4 659.1,1034.3 672.7,1014.3 688.2,994.3 705.9,974.2 726.2,954.2 749,934.2 774.5,914.2 802.2,894.1 831,874.1 859.8,854.1 887.2,834 913.5,814 939.6,794 966.4,773.9 995,753.9 1025.6,733.9 1058.1,713.8 1071.2,706.1 1071.2,1254.7" fill="#98b2b8"/>
<polygon points="564.8,1254.7 569.3,1234.7 574.2,1214.6 580,1194.6 587.2,1174.6 596.1,1154.5 606.5,1134.5 617.9,1114.5 629.8,1094.4 641.6,1074.4 653.4,1054.4 666,1034.3 679.9,1014.3 695.9,994.3 714.2,974.2 735,954.2 758.5,934.2 784.8,914.2 813.2,894.1 842.9,874.1 872.5,854.1 900.7,834 927.9,814 954.7,794 982.3,773.9 1011.7,753.9 1043.2,733.9 1071.2,717 1071.2,1254.7" fill="#96afb6"/>
<polygon points="568.7,1254.7 573.3,1234.7 578.4,1214.6 584.4,1194.6 591.8,1174.6 600.9,1154.5 611.6,1134.5 623.4,1114.5 635.6,1094.4 647.7,1074.4 659.9,1054.4 672.8,1034.3 687.1,1014.3 703.6,994.3 722.4,974.2 743.8,954.2 768,934.2 795,914.2 824.3,894.1 854.8,874.1 885.2,854.1 914.3,834 942.2,814 969.8,794 998.2,773.9 1028.4,753.9 1060.8,733.9 1071.2,727.7 1071.2,1254.7" fill="#94adb4"/>
<polygon points="572.7,1254.7 577.4,1234.7 582.7,1214.6 588.8,1194.6 596.4,1174.6 605.8,1154.5 616.8,1134.5 628.9,1114.5 641.4,1094.4 653.9,1074.4 666.4,1054.4 679.7,1034.3 694.4,1014.3 711.3,994.3 730.6,974.2 752.6,954.2 777.5,934.2 805.3,914.2 835.3,894.1 866.7,874.1 898,854.1 927.9,834 956.5,814 984.9,794 1014.1,773.9 1045.2,753.9 1071.2,738.1 1071.2,1254.7" fill="#92aab2"/>
<polygon points="576.7,1254.7 581.5,1234.7 586.9,1214.6 593.2,1194.6 601,1174.6 610.6,1154.5 621.9,1134.5 634.4,1114.5 647.3,1094.4 660,1074.4 672.9,1054.4 686.5,1034.3 701.6,1014.3 719,994.3 738.8,974.2 761.5,954.2 787,934.2 815.5,914.2 846.4,894.1 878.6,874.1 910.7,854.1 941.4,834 970.9,814 1000,794 1030,773.9 1061.9,753.9 1071.2,748.3 1071.2,1254.7" fill="#91a8b1"/>
<polygon points="580.6,1254.7 585.6,1234.7 591.1,1214.6 597.6,1194.6 605.6,1174.6 615.5,1154.5 627.1,1134.5 639.8,1114.5 653.1,1094.4 666.2,1074.4 679.4,1054.4 693.4,1034.3 708.9,1014.3 726.7,994.3 747.1,974.2 770.3,954.2 796.5,934.2 825.7,914.2 857.5,894.1 890.5,874.1 923.5,854.1 955,834 985.2,814 1015.1,794 1045.8,773.9 1071.2,758.3 1071.2,1254.7" fill="#8fa5af"/>
<polygon points="584.6,1254.7 589.7,1234.7 595.3,1214.6 602,1194.6 610.2,1174.6 620.3,1154.5 632.2,1134.5 645.3,1114.5 658.9,1094.4 672.3,1074.4 685.9,1054.4 700.2,1034.3 716.1,1014.3 734.4,994.3 755.3,974.2 779.1,954.2 806,934.2 836,914.2 868.5,894.1 902.4,874.1 936.2,854.1 968.5,834 999.5,814 1030.2,794 1061.7,773.9 1071.2,768.1 1071.2,1254.7" fill="#8da3ad"/>
<polygon points="588.5,1254.7 593.8,1234.7 599.6,1214.6 606.4,1194.6 614.8,1174.6 625.2,1154.5 637.4,1134.5 650.8,1114.5 664.7,1094.4 678.5,1074.4 692.4,1054.4 707.1,1034.3 723.4,1014.3 742.1,994.3 763.5,974.2 787.9,954.2 815.5,934.2 846.2,914.2 879.6,894.1 914.3,874.1 949,854.1 982.1,834 1013.9,814 1045.3,794 1071.2,777.8 1071.2,1254.7" fill="#8ba1ab"/>
<polygon points="592.5,1254.7 597.8,1234.7 603.8,1214.6 610.8,1194.6 619.4,1174.6 630.1,1154.5 642.5,1134.5 656.3,1114.5 670.5,1094.4 684.6,1074.4 698.9,1054.4 713.9,1034.3 730.6,1014.3 749.8,994.3 771.7,974.2 796.7,954.2 825,934.2 856.5,914.2 890.6,894.1 926.2,874.1 961.7,854.1 995.6,834 1028.2,814 1060.4,794 1071.2,787.3 1071.2,1254.7" fill="#8a9ea9"/>
<polygon points="596.4,1254.7 601.9,1234.7 608,1214.6 615.2,1194.6 624,1174.6 634.9,1154.5 647.7,1134.5 661.7,1114.5 676.3,1094.4 690.8,1074.4 705.4,1054.4 720.8,1034.3 737.9,1014.3 757.5,994.3 780,974.2 805.6,954.2 834.4,934.2 866.7,914.2 901.7,894.1 938.1,874.1 974.5,854.1 1009.2,834 1042.5,814 1071.2,796.6 1071.2,1254.7" fill="#889ca8"/>
<polygon points="600.4,1254.7 606,1234.7 612.2,1214.6 619.6,1194.6 628.6,1174.6 639.8,1154.5 652.8,1134.5 667.2,1114.5 682.2,1094.4 696.9,1074.4 711.9,1054.4 727.6,1034.3 745.1,1014.3 765.2,994.3 788.2,974.2 814.4,954.2 843.9,934.2 877,914.2 912.7,894.1 950,874.1 987.2,854.1 1022.7,834 1056.9,814 1071.2,805.5 1071.2,1254.7" fill="#8699a6"/>
<polygon points="604.4,1254.7 610.1,1234.7 616.5,1214.6 624,1194.6 633.2,1174.6 644.6,1154.5 658,1134.5 672.7,1114.5 688,1094.4 703.1,1074.4 718.3,1054.4 734.5,1034.3 752.4,1014.3 772.9,994.3 796.4,974.2 823.2,954.2 853.4,934.2 887.2,914.2 923.8,894.1 961.9,874.1 1000,854.1 1036.3,834 1071.2,814 1071.2,814 1071.2,1254.7" fill="#8497a4"/>
<polygon points="608.3,1254.7 614.2,1234.7 620.7,1214.6 628.3,1194.6 637.8,1174.6 649.5,1154.5 663.1,1134.5 678.2,1114.5 693.8,1094.4 709.2,1074.4 724.8,1054.4 741.3,1034.3 759.6,1014.3 780.6,994.3 804.6,974.2 832,954.2 862.9,934.2 897.4,914.2 934.8,894.1 973.8,874.1 1012.7,854.1 1049.9,834 1071.2,822.1 1071.2,1254.7" fill="#8294a2"/>
<polygon points="612.3,1254.7 618.3,1234.7 624.9,1214.6 632.7,1194.6 642.4,1174.6 654.3,1154.5 668.3,1134.5 683.6,1114.5 699.6,1094.4 715.4,1074.4 731.3,1054.4 748.2,1034.3 766.9,1014.3 788.3,994.3 812.9,974.2 840.8,954.2 872.4,934.2 907.7,914.2 945.9,894.1 985.8,874.1 1025.5,854.1 1063.4,834 1071.2,829.8 1071.2,1254.7" fill="#8192a1"/>
<polygon points="616.2,1254.7 622.3,1234.7 629.1,1214.6 637.1,1194.6 647,1174.6 659.2,1154.5 673.4,1134.5 689.1,1114.5 705.4,1094.4 721.5,1074.4 737.8,1054.4 755,1034.3 774.1,1014.3 796,994.3 821.1,974.2 849.7,954.2 881.9,934.2 917.9,914.2 957,894.1 997.7,874.1 1038.2,854.1 1071.2,837.1 1071.2,1254.7" fill="#7f8f9f"/>
<polygon points="620.2,1254.7 626.4,1234.7 633.4,1214.6 641.5,1194.6 651.6,1174.6 664,1154.5 678.6,1134.5 694.6,1114.5 711.2,1094.4 727.7,1074.4 744.3,1054.4 761.9,1034.3 781.3,1014.3 803.7,994.3 829.3,974.2 858.5,954.2 891.4,934.2 928.2,914.2 968,894.1 1009.6,874.1 1051,854.1 1071.2,843.9 1071.2,1254.7" fill="#7d8d9d"/>
<polygon points="624.1,1254.7 630.5,1234.7 637.6,1214.6 645.9,1194.6 656.2,1174.6 668.9,1154.5 683.7,1134.5 700.1,1114.5 717,1094.4 733.8,1074.4 750.8,1054.4 768.7,1034.3 788.6,1014.3 811.4,994.3 837.5,974.2 867.3,954.2 900.9,934.2 938.4,914.2 979.1,894.1 1021.5,874.1 1063.7,854.1 1071.2,850.4 1071.2,1254.7" fill="#7b8a9b"/>
<polygon points="628.1,1254.7 634.6,1234.7 641.8,1214.6 650.3,1194.6 660.8,1174.6 673.7,1154.5 688.9,1134.5 705.6,1114.5 722.9,1094.4 740,1074.4 757.3,1054.4 775.6,1034.3 795.8,1014.3 819.1,994.3 845.8,974.2 876.1,954.2 910.4,934.2 948.7,914.2 990.1,894.1 1033.4,874.1 1071.2,856.5 1071.2,1254.7" fill="#7a8899"/>
<polygon points="632,1254.7 638.7,1234.7 646,1214.6 654.7,1194.6 665.3,1174.6 678.6,1154.5 694,1134.5 711,1114.5 728.7,1094.4 746.1,1074.4 763.8,1054.4 782.4,1034.3 803.1,1014.3 826.8,994.3 854,974.2 884.9,954.2 919.9,934.2 958.9,914.2 1001.2,894.1 1045.3,874.1 1071.2,862.3 1071.2,1254.7" fill="#788698"/>
<polygon points="636,1254.7 642.8,1234.7 650.3,1214.6 659.1,1194.6 669.9,1174.6 683.4,1154.5 699.2,1134.5 716.5,1114.5 734.5,1094.4 752.3,1074.4 770.3,1054.4 789.3,1034.3 810.3,1014.3 834.5,994.3 862.2,974.2 893.8,954.2 929.4,934.2 969.1,914.2 1012.2,894.1 1057.2,874.1 1071.2,867.9 1071.2,1254.7" fill="#768396"/>
<polygon points="640,1254.7 646.9,1234.7 654.5,1214.6 663.5,1194.6 674.5,1174.6 688.3,1154.5 704.3,1134.5 722,1114.5 740.3,1094.4 758.4,1074.4 776.8,1054.4 796.1,1034.3 817.6,1014.3 842.2,994.3 870.4,974.2 902.6,954.2 938.9,934.2 979.4,914.2 1023.3,894.1 1069.1,874.1 1071.2,873.2 1071.2,1254.7" fill="#748194"/>
<polygon points="643.9,1254.7 650.9,1234.7 658.7,1214.6 667.9,1194.6 679.1,1174.6 693.1,1154.5 709.5,1134.5 727.5,1114.5 746.1,1094.4 764.6,1074.4 783.2,1054.4 803,1034.3 824.8,1014.3 849.9,994.3 878.7,974.2 911.4,954.2 948.3,934.2 989.6,914.2 1034.3,894.1 1071.2,878.3 1071.2,1254.7" fill="#727e92"/>
<polygon points="647.9,1254.7 655,1234.7 662.9,1214.6 672.3,1194.6 683.7,1174.6 698,1154.5 714.6,1134.5 732.9,1114.5 751.9,1094.4 770.7,1074.4 789.7,1054.4 809.8,1034.3 832.1,1014.3 857.6,994.3 886.9,974.2 920.2,954.2 957.8,934.2 999.9,914.2 1045.4,894.1 1071.2,883.2 1071.2,1254.7" fill="#717c91"/>
<polygon points="651.8,1254.7 659.1,1234.7 667.2,1214.6 676.7,1194.6 688.3,1174.6 702.8,1154.5 719.8,1134.5 738.4,1114.5 757.7,1094.4 776.9,1074.4 796.2,1054.4 816.7,1034.3 839.3,1014.3 865.3,994.3 895.1,974.2 929,954.2 967.3,934.2 1010.1,914.2 1056.5,894.1 1071.2,888 1071.2,1254.7" fill="#6f798f"/>
<polygon points="655.8,1254.7 663.2,1234.7 671.4,1214.6 681.1,1194.6 692.9,1174.6 707.7,1154.5 724.9,1134.5 743.9,1114.5 763.6,1094.4 783,1074.4 802.7,1054.4 823.5,1034.3 846.6,1014.3 873,994.3 903.3,974.2 937.8,954.2 976.8,934.2 1020.4,914.2 1067.5,894.1 1071.2,892.6 1071.2,1254.7" fill="#6d778d"/>
<polygon points="659.7,1254.7 667.3,1234.7 675.6,1214.6 685.4,1194.6 697.5,1174.6 712.5,1154.5 730.1,1134.5 749.4,1114.5 769.4,1094.4 789.2,1074.4 809.2,1054.4 830.4,1034.3 853.8,1014.3 880.7,994.3 911.6,974.2 946.7,954.2 986.3,934.2 1030.6,914.2 1071.2,897.1 1071.2,1254.7" fill="#6b748b"/>
<polygon points="663.7,1254.7 671.4,1234.7 679.8,1214.6 689.8,1194.6 702.1,1174.6 717.4,1154.5 735.2,1134.5 754.8,1114.5 775.2,1094.4 795.3,1074.4 815.7,1054.4 837.2,1034.3 861,1014.3 888.4,994.3 919.8,974.2 955.5,954.2 995.8,934.2 1040.8,914.2 1071.2,901.5 1071.2,1254.7" fill="#6a7289"/>
<polygon points="667.7,1254.7 675.4,1234.7 684.1,1214.6 694.2,1194.6 706.7,1174.6 722.2,1154.5 740.4,1134.5 760.3,1114.5 781,1094.4 801.5,1074.4 822.2,1054.4 844.1,1034.3 868.3,1014.3 896.1,994.3 928,974.2 964.3,954.2 1005.3,934.2 1051.1,914.2 1071.2,905.9 1071.2,1254.7" fill="#687088"/>
<polygon points="671.6,1254.7 679.5,1234.7 688.3,1214.6 698.6,1194.6 711.3,1174.6 727.1,1154.5 745.5,1134.5 765.8,1114.5 786.8,1094.4 807.6,1074.4 828.7,1054.4 850.9,1034.3 875.5,1014.3 903.8,994.3 936.2,974.2 973.1,954.2 1014.8,934.2 1061.3,914.2 1071.2,910.1 1071.2,1254.7" fill="#666d86"/>
<polygon points="675.6,1254.7 683.6,1234.7 692.5,1214.6 703,1194.6 715.9,1174.6 731.9,1154.5 750.7,1134.5 771.3,1114.5 792.6,1094.4 813.8,1074.4 835.2,1054.4 857.8,1034.3 882.8,1014.3 911.5,994.3 944.5,974.2 981.9,954.2 1024.3,934.2 1071.2,914.3 1071.2,1254.7" fill="#646b84"/>
<polygon points="679.5,1254.7 687.7,1234.7 696.7,1214.6 707.4,1194.6 720.5,1174.6 736.8,1154.5 755.8,1134.5 776.7,1114.5 798.5,1094.4 819.9,1074.4 841.7,1054.4 864.6,1034.3 890,1014.3 919.2,994.3 952.7,974.2 990.8,954.2 1033.8,934.2 1071.2,918.4 1071.2,1254.7" fill="#636882"/>
<polygon points="683.5,1254.7 691.8,1234.7 701,1214.6 711.8,1194.6 725.1,1174.6 741.6,1154.5 761,1134.5 782.2,1114.5 804.3,1094.4 826.1,1074.4 848.1,1054.4 871.4,1034.3 897.3,1014.3 926.9,994.3 960.9,974.2 999.6,954.2 1043.3,934.2 1071.2,922.5 1071.2,1254.7" fill="#616681"/>
<polygon points="687.4,1254.7 695.9,1234.7 705.2,1214.6 716.2,1194.6 729.7,1174.6 746.5,1154.5 766.1,1134.5 787.7,1114.5 810.1,1094.4 832.2,1074.4 854.6,1054.4 878.3,1034.3 904.5,1014.3 934.6,994.3 969.1,974.2 1008.4,954.2 1052.8,934.2 1071.2,926.5 1071.2,1254.7" fill="#5f637f"/>
<polygon points="691.4,1254.7 699.9,1234.7 709.4,1214.6 720.6,1194.6 734.3,1174.6 751.3,1154.5 771.2,1134.5 793.2,1114.5 815.9,1094.4 838.4,1074.4 861.1,1054.4 885.1,1034.3 911.8,1014.3 942.3,994.3 977.4,974.2 1017.2,954.2 1062.2,934.2 1071.2,930.5 1071.2,1254.7" fill="#5d617d"/>
<polygon points="695.4,1254.7 704,1234.7 713.7,1214.6 725,1194.6 738.9,1174.6 756.2,1154.5 776.4,1134.5 798.6,1114.5 821.7,1094.4 844.5,1074.4 867.6,1054.4 892,1034.3 919,1014.3 950,994.3 985.6,974.2 1026,954.2 1071.2,934.4 1071.2,1254.7" fill="#5b5e7b"/>
<polygon points="699.3,1254.7 708.1,1234.7 717.9,1214.6 729.4,1194.6 743.5,1174.6 761,1154.5 781.5,1134.5 804.1,1114.5 827.5,1094.4 850.7,1074.4 874.1,1054.4 898.8,1034.3 926.3,1014.3 957.7,994.3 993.8,974.2 1034.9,954.2 1071.2,938.3 1071.2,1254.7" fill="#5a5c7a"/>
<polygon points="703.3,1254.7 712.2,1234.7 722.1,1214.6 733.8,1194.6 748.1,1174.6 765.9,1154.5 786.7,1134.5 809.6,1114.5 833.3,1094.4 856.8,1074.4 880.6,1054.4 905.7,1034.3 933.5,1014.3 965.4,994.3 1002,974.2 1043.7,954.2 1071.2,942.2 1071.2,1254.7" fill="#585978"/>
<polygon points="707.2,1254.7 716.3,1234.7 726.3,1214.6 738.2,1194.6 752.7,1174.6 770.7,1154.5 791.8,1134.5 815.1,1114.5 839.2,1094.4 863,1074.4 887.1,1054.4 912.5,1034.3 940.7,1014.3 973.1,994.3 1010.3,974.2 1052.5,954.2 1071.2,946.1 1071.2,1254.7" fill="#565776"/>
<polygon points="711.2,1254.7 720.4,1234.7 730.6,1214.6 742.5,1194.6 757.3,1174.6 775.6,1154.5 797,1134.5 820.5,1114.5 845,1094.4 869.1,1074.4 893.6,1054.4 919.4,1034.3 948,1014.3 980.8,994.3 1018.5,974.2 1061.3,954.2 1071.2,949.9 1071.2,1254.7" fill="#545574"/>
<polygon points="715.1,1254.7 724.5,1234.7 734.8,1214.6 746.9,1194.6 761.9,1174.6 780.4,1154.5 802.1,1134.5 826,1114.5 850.8,1094.4 875.3,1074.4 900.1,1054.4 926.2,1034.3 955.2,1014.3 988.5,994.3 1026.7,974.2 1070.1,954.2 1071.2,953.8 1071.2,1254.7" fill="#535372"/>
<polygon points="719.1,1254.7 728.5,1234.7 739,1214.6 751.3,1194.6 766.5,1174.6 785.3,1154.5 807.3,1134.5 831.5,1114.5 856.6,1094.4 881.5,1074.4 906.6,1054.4 933.1,1034.3 962.5,1014.3 996.2,994.3 1034.9,974.2 1071.2,957.6 1071.2,1254.7" fill="#515170"/>
<polygon points="723.1,1254.7 732.6,1234.7 743.2,1214.6 755.7,1194.6 771.1,1174.6 790.1,1154.5 812.4,1134.5 837,1114.5 862.4,1094.4 887.6,1074.4 913,1054.4 939.9,1034.3 969.7,1014.3 1003.9,994.3 1043.2,974.2 1071.2,961.4 1071.2,1254.7" fill="#4f4f6d"/>
<polygon points="727,1254.7 736.7,1234.7 747.5,1214.6 760.1,1194.6 775.7,1174.6 795,1154.5 817.6,1134.5 842.4,1114.5 868.2,1094.4 893.8,1074.4 919.5,1054.4 946.8,1034.3 977,1014.3 1011.6,994.3 1051.4,974.2 1071.2,965.2 1071.2,1254.7" fill="#4d4d6b"/>
<polygon points="731,1254.7 740.8,1234.7 751.7,1214.6 764.5,1194.6 780.3,1174.6 799.8,1154.5 822.7,1134.5 847.9,1114.5 874,1094.4 899.9,1074.4 926,1054.4 953.6,1034.3 984.2,1014.3 1019.4,994.3 1059.6,974.2 1071.2,968.9 1071.2,1254.7" fill="#4b4b68"/>
<polygon points="734.9,1254.7 744.9,1234.7 755.9,1214.6 768.9,1194.6 784.9,1174.6 804.7,1154.5 827.9,1134.5 853.4,1114.5 879.9,1094.4 906.1,1074.4 932.5,1054.4 960.5,1034.3 991.5,1014.3 1027.1,994.3 1067.8,974.2 1071.2,972.7 1071.2,1254.7" fill="#4a4a66"/>
<polygon points="738.9,1254.7 749,1234.7 760.1,1214.6 773.3,1194.6 789.5,1174.6 809.5,1154.5 833,1134.5 858.9,1114.5 885.7,1094.4 912.2,1074.4 939,1054.4 967.3,1034.3 998.7,1014.3 1034.8,994.3 1071.2,976.5 1071.2,1254.7" fill="#484863"/>
<polygon points="742.8,1254.7 753,1234.7 764.4,1214.6 777.7,1194.6 794.1,1174.6 814.4,1154.5 838.2,1134.5 864.3,1114.5 891.5,1094.4 918.4,1074.4 945.5,1054.4 974.2,1034.3 1006,1014.3 1042.5,994.3 1071.2,980.2 1071.2,1254.7" fill="#464661"/>
<polygon points="746.8,1254.7 757.1,1234.7 768.6,1214.6 782.1,1194.6 798.7,1174.6 819.2,1154.5 843.3,1134.5 869.8,1114.5 897.3,1094.4 924.5,1074.4 952,1054.4 981,1034.3 1013.2,1014.3 1050.2,994.3 1071.2,984 1071.2,1254.7" fill="#44445e"/>
<polygon points="750.8,1254.7 761.2,1234.7 772.8,1214.6 786.5,1194.6 803.3,1174.6 824.1,1154.5 848.5,1134.5 875.3,1114.5 903.1,1094.4 930.7,1074.4 958.5,1054.4 987.9,1034.3 1020.5,1014.3 1057.9,994.3 1071.2,987.8 1071.2,1254.7" fill="#43435c"/>
<polygon points="754.7,1254.7 765.3,1234.7 777,1214.6 790.9,1194.6 807.9,1174.6 829,1154.5 853.6,1134.5 880.8,1114.5 908.9,1094.4 936.8,1074.4 965,1054.4 994.7,1034.3 1027.7,1014.3 1065.6,994.3 1071.2,991.5 1071.2,1254.7" fill="#414159"/>
<polygon points="758.7,1254.7 769.4,1234.7 781.3,1214.6 795.3,1194.6 812.5,1174.6 833.8,1154.5 858.8,1134.5 886.2,1114.5 914.7,1094.4 943,1074.4 971.5,1054.4 1001.6,1034.3 1034.9,1014.3 1071.2,995.3 1071.2,1254.7" fill="#3f3f57"/>
<polygon points="762.6,1254.7 773.5,1234.7 785.5,1214.6 799.6,1194.6 817.1,1174.6 838.7,1154.5 863.9,1134.5 891.7,1114.5 920.6,1094.4 949.1,1074.4 977.9,1054.4 1008.4,1034.3 1042.2,1014.3 1071.2,999.1 1071.2,1254.7" fill="#3d3d55"/>
<polygon points="766.6,1254.7 777.6,1234.7 789.7,1214.6 804,1194.6 821.6,1174.6 843.5,1154.5 869.1,1134.5 897.2,1114.5 926.4,1094.4 955.3,1074.4 984.4,1054.4 1015.3,1034.3 1049.4,1014.3 1071.2,1002.9 1071.2,1254.7" fill="#3b3b52"/>
<polygon points="770.5,1254.7 781.6,1234.7 793.9,1214.6 808.4,1194.6 826.2,1174.6 848.4,1154.5 874.2,1134.5 902.7,1114.5 932.2,1094.4 961.4,1074.4 990.9,1054.4 1022.1,1034.3 1056.7,1014.3 1071.2,1006.7 1071.2,1254.7" fill="#3a3a50"/>
<polygon points="774.5,1254.7 785.7,1234.7 798.2,1214.6 812.8,1194.6 830.8,1174.6 853.2,1154.5 879.4,1134.5 908.1,1114.5 938,1094.4 967.6,1074.4 997.4,1054.4 1029,1034.3 1063.9,1014.3 1071.2,1010.5 1071.2,1254.7" fill="#38384d"/>
<polygon points="778.4,1254.7 789.8,1234.7 802.4,1214.6 817.2,1194.6 835.4,1174.6 858.1,1154.5 884.5,1134.5 913.6,1114.5 943.8,1094.4 973.7,1074.4 1003.9,1054.4 1035.8,1034.3 1071.2,1014.3 1071.2,1014.3 1071.2,1254.7" fill="#36364b"/>
<polygon points="782.4,1254.7 793.9,1234.7 806.6,1214.6 821.6,1194.6 840,1174.6 862.9,1154.5 889.7,1134.5 919.1,1114.5 949.6,1094.4 979.9,1074.4 1010.4,1054.4 1042.7,1034.3 1071.2,1018.2 1071.2,1254.7" fill="#343448"/>
<polygon points="786.4,1254.7 798,1234.7 810.8,1214.6 826,1194.6 844.6,1174.6 867.8,1154.5 894.8,1134.5 924.6,1114.5 955.5,1094.4 986,1074.4 1016.9,1054.4 1049.5,1034.3 1071.2,1022 1071.2,1254.7" fill="#333346"/>
<polygon points="790.3,1254.7 802.1,1234.7 815.1,1214.6 830.4,1194.6 849.2,1174.6 872.6,1154.5 900,1134.5 930,1114.5 961.3,1094.4 992.2,1074.4 1023.4,1054.4 1056.4,1034.3 1071.2,1025.9 1071.2,1254.7" fill="#313143"/>
<polygon points="794.3,1254.7 806.1,1234.7 819.3,1214.6 834.8,1194.6 853.8,1174.6 877.5,1154.5 905.1,1134.5 935.5,1114.5 967.1,1094.4 998.3,1074.4 1029.9,1054.4 1063.2,1034.3 1071.2,1029.8 1071.2,1254.7" fill="#2f2f41"/>
<polygon points="798.2,1254.7 810.2,1234.7 823.5,1214.6 839.2,1194.6 858.4,1174.6 882.3,1154.5 910.3,1134.5 941,1114.5 972.9,1094.4 1004.5,1074.4 1036.4,1054.4 1070.1,1034.3 1071.2,1033.7 1071.2,1254.7" fill="#2d2d3f"/>
<polygon points="802.2,1254.7 814.3,1234.7 827.7,1214.6 843.6,1194.6 863,1174.6 887.2,1154.5 915.4,1134.5 946.5,1114.5 978.7,1094.4 1010.6,1074.4 1042.8,1054.4 1071.2,1037.6 1071.2,1254.7" fill="#2b2b3c"/>
<polygon points="806.1,1254.7 818.4,1234.7 832,1214.6 848,1194.6 867.6,1174.6 892,1154.5 920.6,1134.5 951.9,1114.5 984.5,1094.4 1016.8,1074.4 1049.3,1054.4 1071.2,1041.5 1071.2,1254.7" fill="#2a2a3a"/>
<polygon points="810.1,1254.7 822.5,1234.7 836.2,1214.6 852.4,1194.6 872.2,1174.6 896.9,1154.5 925.7,1134.5 957.4,1114.5 990.3,1094.4 1022.9,1074.4 1055.8,1054.4 1071.2,1045.3 1071.2,1254.7" fill="#282837"/>
<polygon points="814.1,1254.7 826.6,1234.7 840.4,1214.6 856.7,1194.6 876.8,1174.6 901.7,1154.5 930.9,1134.5 962.9,1114.5 996.2,1094.4 1029.1,1074.4 1062.3,1054.4 1071.2,1049.2 1071.2,1254.7" fill="#262635"/>
<polygon points="818,1254.7 830.6,1234.7 844.6,1214.6 861.1,1194.6 881.4,1174.6 906.6,1154.5 936,1134.5 968.4,1114.5 1002,1094.4 1035.2,1074.4 1068.8,1054.4 1071.2,1053 1071.2,1254.7" fill="#242432"/>
<polygon points="822,1254.7 834.7,1234.7 848.9,1214.6 865.5,1194.6 886,1174.6 911.4,1154.5 941.1,1134.5 973.8,1114.5 1007.8,1094.4 1041.4,1074.4 1071.2,1056.8 1071.2,1254.7" fill="#232330"/>
<polygon points="825.9,1254.7 838.8,1234.7 853.1,1214.6 869.9,1194.6 890.6,1174.6 916.3,1154.5 946.3,1134.5 979.3,1114.5 1013.6,1094.4 1047.5,1074.4 1071.2,1060.5 1071.2,1254.7" fill="#21212d"/>
<polygon points="829.9,1254.7 842.9,1234.7 857.3,1214.6 874.3,1194.6 895.2,1174.6 921.1,1154.5 951.4,1134.5 984.8,1114.5 1019.4,1094.4 1053.7,1074.4 1071.2,1064.2 1071.2,1254.7" fill="#1f1f2b"/>
<polygon points="833.8,1254.7 847,1234.7 861.6,1214.6 878.7,1194.6 899.8,1174.6 926,1154.5 956.6,1134.5 990.3,1114.5 1025.2,1094.4 1059.8,1074.4 1071.2,1067.8 1071.2,1254.7" fill="#1d1d28"/>
<polygon points="837.8,1254.7 851.1,1234.7 865.8,1214.6 883.1,1194.6 904.4,1174.6 930.8,1154.5 961.7,1134.5 995.8,1114.5 1031,1094.4 1066,1074.4 1071.2,1071.4 1071.2,1254.7" fill="#1c1c26"/>
<polygon points="841.8,1254.7 855.2,1234.7 870,1214.6 887.5,1194.6 909,1174.6 935.7,1154.5 966.9,1134.5 1001.2,1114.5 1036.9,1094.4 1071.2,1074.9 1071.2,1254.7" fill="#1a1a24"/>
<polygon points="845.7,1254.7 859.2,1234.7 874.2,1214.6 891.9,1194.6 913.6,1174.6 940.5,1154.5 972,1134.5 1006.7,1114.5 1042.7,1094.4 1071.2,1078.4 1071.2,1254.7" fill="#181821"/>
<polygon points="849.7,1254.7 863.3,1234.7 878.5,1214.6 896.3,1194.6 918.2,1174.6 945.4,1154.5 977.2,1134.5 1012.2,1114.5 1048.5,1094.4 1071.2,1081.8 1071.2,1254.7" fill="#16161f"/>
<polygon points="853.6,1254.7 867.4,1234.7 882.7,1214.6 900.7,1194.6 922.8,1174.6 950.2,1154.5 982.3,1134.5 1017.7,1114.5 1054.3,1094.4 1071.2,1085.1 1071.2,1254.7" fill="#14141c"/>
<polygon points="857.6,1254.7 871.5,1234.7 886.9,1214.6 905.1,1194.6 927.4,1174.6 955.1,1154.5 987.5,1134.5 1023.1,1114.5 1060.1,1094.4 1071.2,1088.4 1071.2,1254.7" fill="#13131a"/>
<polygon points="861.5,1254.7 875.6,1234.7 891.1,1214.6 909.5,1194.6 932,1174.6 959.9,1154.5 992.6,1134.5 1028.6,1114.5 1065.9,1094.4 1071.2,1091.6 1071.2,1254.7" fill="#111117"/>
<polygon points="865.5,1254.7 879.7,1234.7 895.4,1214.6 913.8,1194.6 936.6,1174.6 964.8,1154.5 997.8,1134.5 1034.1,1114.5 1071.2,1094.7 1071.2,1254.7" fill="#0f0f15"/>
<polygon points="869.5,1254.7 883.7,1234.7 899.6,1214.6 918.2,1194.6 941.2,1174.6 969.6,1154.5 1002.9,1134.5 1039.6,1114.5 1071.2,1097.8 1071.2,1254.7" fill="#0d0d12"/>
<polygon points="873.4,1254.7 887.8,1234.7 903.8,1214.6 922.6,1194.6 945.8,1174.6 974.5,1154.5 1008.1,1134.5 1045,1114.5 1071.2,1100.8 1071.2,1254.7" fill="#0c0c10"/>
<polygon points="877.4,1254.7 891.9,1234.7 908,1214.6 927,1194.6 950.4,1174.6 979.3,1154.5 1013.2,1134.5 1050.5,1114.5 1071.2,1103.7 1071.2,1254.7" fill="#0a0a0d"/>
<polygon points="881.3,1254.7 896,1234.7 912.3,1214.6 931.4,1194.6 955,1174.6 984.2,1154.5 1018.4,1134.5 1056,1114.5 1071.2,1106.6 1071.2,1254.7" fill="#08080b"/>
<polygon points="885.3,1254.7 900.1,1234.7 916.5,1214.6 935.8,1194.6 959.6,1174.6 989,1154.5 1023.5,1134.5 1061.5,1114.5 1071.2,1109.5 1071.2,1254.7" fill="#060609"/>
<polygon points="889.2,1254.7 904.2,1234.7 920.7,1214.6 940.2,1194.6 964.2,1174.6 993.9,1154.5 1028.7,1134.5 1066.9,1114.5 1071.2,1112.3 1071.2,1254.7" fill="#040406"/>
<polygon points="893.2,1254.7 908.2,1234.7 924.9,1214.6 944.6,1194.6 968.8,1174.6 998.7,1154.5 1033.8,1134.5 1071.2,1115.1 1071.2,1254.7" fill="#030304"/>
<polygon points="897.2,1254.7 912.3,1234.7 929.2,1214.6 949,1194.6 973.4,1174.6 1003.6,1154.5 1039,1134.5 1071.2,1117.8 1071.2,1254.7" fill="#010101"/>
<polygon points="901.1,1254.7 916.4,1234.7 933.4,1214.6 953.4,1194.6 977.9,1174.6 1008.4,1154.5 1044.1,1134.5 1071.2,1120.5 1071.2,1254.7" fill="#000000"/>
<rect x="426.3" y="693.8" width="644.9" height="560.9" fill="none" stroke="#2b2b2b" stroke-width="1.3"/>
<path d="M426.3 1254.7v-6.5M426.3 693.8v6.5M496.1 1254.7v-6.5M496.1 693.8v6.5M565.9 1254.7v-6.5M565.9 693.8v6.5M635.8 1254.7v-6.5M635.8 693.8v6.5M705.6 1254.7v-6.5M705.6 693.8v6.5M775.4 1254.7v-6.5M775.4 693.8v6.5M845.2 1254.7v-6.5M845.2 693.8v6.5M915.1 1254.7v-6.5M915.1 693.8v6.5M984.9 1254.7v-6.5M984.9 693.8v6.5M1054.7 1254.7v-6.5M1054.7 693.8v6.5M426.3 1254.7h6.5M1071.2 1254.7h-6.5M426.3 1174.6h6.5M1071.2 1174.6h-6.5M426.3 1094.4h6.5M1071.2 1094.4h-6.5M426.3 1014.3h6.5M1071.2 1014.3h-6.5M426.3 934.2h6.5M1071.2 934.2h-6.5M426.3 854.1h6.5M1071.2 854.1h-6.5M426.3 773.9h6.5M1071.2 773.9h-6.5M426.3 693.8h6.5M1071.2 693.8h-6.5" stroke="#2b2b2b" stroke-width="1.3" fill="none"/>
<text x="426.3" y="1287.3" font-size="21" text-anchor="middle" fill="#2b2b2b">0</text>
<text x="496.1" y="1287.3" font-size="21" text-anchor="middle" fill="#2b2b2b">10</text>
<text x="565.9" y="1287.3" font-size="21" text-anchor="middle" fill="#2b2b2b">20</text>
<text x="635.8" y="1287.3" font-size="21" text-anchor="middle" fill="#2b2b2b">30</text>
<text x="705.6" y="1287.3" font-size="21" text-anchor="middle" fill="#2b2b2b">40</text>
<text x="775.4" y="1287.3" font-size="21" text-anchor="middle" fill="#2b2b2b">50</text>
<text x="845.2" y="1287.3" font-size="21" text-anchor="middle" fill="#2b2b2b">60</text>
<text x="915.1" y="1287.3" font-size="21" text-anchor="middle" fill="#2b2b2b">70</text>
<text x="984.9" y="1287.3" font-size="21" text-anchor="middle" fill="#2b2b2b">80</text>
<text x="1054.7" y="1287.3" font-size="21" text-anchor="middle" fill="#2b2b2b">90</text>
<text x="415.9" y="1264.7" font-size="21" text-anchor="end" fill="#2b2b2b">-1</text>
<text x="415.9" y="1184.6" font-size="21" text-anchor="end" fill="#2b2b2b">0</text>
<text x="415.9" y="1104.4" font-size="21" text-anchor="end" fill="#2b2b2b">1</text>
<text x="415.9" y="1024.3" font-size="21" text-anchor="end" fill="#2b2b2b">2</text>
<text x="415.9" y="944.2" font-size="21" text-anchor="end" fill="#2b2b2b">3</text>
<text x="415.9" y="864.1" font-size="21" text-anchor="end" fill="#2b2b2b">4</text>
<text x="415.9" y="783.9" font-size="21" text-anchor="end" fill="#2b2b2b">5</text>
<text x="415.9" y="703.8" font-size="21" text-anchor="end" fill="#2b2b2b">6</text>
<rect x="1090.4" y="693.8" width="34.1" height="560.9" fill="url(#gc)" stroke="#2b2b2b" stroke-width="1.3"/>
<path d="M1124.5 1230h-3.5M1124.5 1178.9h-3.5M1124.5 1127.8h-3.5M1124.5 1076.7h-3.5M1124.5 1025.6h-3.5M1124.5 974.5h-3.5M1124.5 923.4h-3.5M1124.5 872.3h-3.5M1124.5 821.2h-3.5M1124.5 770.1h-3.5M1124.5 719h-3.5" stroke="#2b2b2b" stroke-width="1.3" fill="none"/>
<text x="1133" y="1237.9" font-size="20" fill="#2b2b2b">0</text>
<text x="1133" y="1186.8" font-size="20" fill="#2b2b2b">0.01</text>
<text x="1133" y="1135.7" font-size="20" fill="#2b2b2b">0.02</text>
<text x="1133" y="1084.6" font-size="20" fill="#2b2b2b">0.03</text>
<text x="1133" y="1033.5" font-size="20" fill="#2b2b2b">0.04</text>
<text x="1133" y="982.4" font-size="20" fill="#2b2b2b">0.05</text>
<text x="1133" y="931.3" font-size="20" fill="#2b2b2b">0.06</text>
<text x="1133" y="880.2" font-size="20" fill="#2b2b2b">0.07</text>
<text x="1133" y="829.1" font-size="20" fill="#2b2b2b">0.08</text>
<text x="1133" y="778" font-size="20" fill="#2b2b2b">0.09</text>
<text x="1133" y="726.9" font-size="20" fill="#2b2b2b">0.1</text>
<rect x="474" y="712.8" width="579" height="50" fill="#fff" stroke="#262626" stroke-width="1.3"/>
<ellipse cx="513.2" cy="738" rx="22" ry="11.8" fill="#707c96"/>
<ellipse cx="513.2" cy="738" rx="11.5" ry="6.3" fill="#000"/>
<text x="551" y="751.4" font-size="35.55" font-weight="bold" fill="#000">Arrhenius damage integral (-)</text>
<text x="749.3" y="1331.6" font-size="35" font-weight="bold" text-anchor="middle" fill="#262626">Time (d)</text>
<text x="0" y="0" transform="translate(382.2 971.8) rotate(-90)" font-size="35" font-weight="bold" text-anchor="middle" fill="#262626">Temperature (°C)</text>
<text transform="translate(343 675.6) scale(1.12 1)" font-size="40" font-weight="bold">c</text>
</g>
<g id="panel-d">
<rect x="76.5" y="1404.3" width="664.1" height="575.9" fill="#ffff66"/>
<polygon points="244,1980.2 245.7,1972 247.4,1963.7 249.2,1955.5 251.1,1947.3 253.1,1939.1 255.3,1930.8 257.6,1922.6 260.2,1914.4 263.1,1906.2 266.3,1897.9 269.9,1889.7 273.8,1881.5 278.1,1873.2 282.6,1865 287.5,1856.8 292.6,1848.6 298.1,1840.3 303.7,1832.1 309.6,1823.9 315.7,1815.7 321.9,1807.4 328.3,1799.2 334.9,1791 341.6,1782.7 348.5,1774.5 355.7,1766.3 363,1758.1 370.6,1749.8 378.4,1741.6 386.4,1733.4 394.7,1725.2 403.2,1716.9 412,1708.7 421.1,1700.5 430.5,1692.2 440.2,1684 450.3,1675.8 460.6,1667.6 471.3,1659.3 482.4,1651.1 493.9,1642.9 505.7,1634.7 517.9,1626.4 530.3,1618.2 543,1610 555.9,1601.8 569,1593.5 582.2,1585.3 595.5,1577.1 608.8,1568.8 622,1560.6 635.2,1552.4 648.4,1544.2 661.6,1535.9 674.9,1527.7 688.3,1519.5 701.9,1511.3 715.7,1503 729.9,1494.8 740.6,1488.7 740.6,1980.2" fill="#bfdf66"/>
<polygon points="412,1980.2 416,1972 420.3,1963.7 425.1,1955.5 430.2,1947.3 435.8,1939.1 441.7,1930.8 448,1922.6 454.6,1914.4 461.7,1906.2 469.1,1897.9 476.8,1889.7 485,1881.5 493.5,1873.2 502.3,1865 511.5,1856.8 521,1848.6 530.8,1840.3 541,1832.1 551.5,1823.9 562.3,1815.7 573.5,1807.4 585,1799.2 596.9,1791 609.2,1782.7 622,1774.5 635.3,1766.3 649,1758.1 663.2,1749.8 678,1741.6 693.3,1733.4 709,1725.2 725.4,1716.9 740.6,1709.5 740.6,1980.2" fill="#80bf66"/>
<polygon points="580.5,1980.2 587.4,1972 594.6,1963.7 602.3,1955.5 610.4,1947.3 618.9,1939.1 627.9,1930.8 637.4,1922.6 647.3,1914.4 657.6,1906.2 668.5,1897.9 679.9,1889.7 691.7,1881.5 704.1,1873.2 717,1865 730.5,1856.8 740.6,1850.8 740.6,1980.2" fill="#409f66"/>
<rect x="76.5" y="1404.3" width="664.1" height="575.9" fill="none" stroke="#2b2b2b" stroke-width="1.3"/>
<path d="M76.5 1980.2v-6.5M76.5 1404.3v6.5M148.4 1980.2v-6.5M148.4 1404.3v6.5M220.3 1980.2v-6.5M220.3 1404.3v6.5M292.2 1980.2v-6.5M292.2 1404.3v6.5M364.1 1980.2v-6.5M364.1 1404.3v6.5M436 1980.2v-6.5M436 1404.3v6.5M507.9 1980.2v-6.5M507.9 1404.3v6.5M579.8 1980.2v-6.5M579.8 1404.3v6.5M651.7 1980.2v-6.5M651.7 1404.3v6.5M723.6 1980.2v-6.5M723.6 1404.3v6.5M76.5 1980.2h6.5M740.6 1980.2h-6.5M76.5 1897.9h6.5M740.6 1897.9h-6.5M76.5 1815.7h6.5M740.6 1815.7h-6.5M76.5 1733.4h6.5M740.6 1733.4h-6.5M76.5 1651.1h6.5M740.6 1651.1h-6.5M76.5 1568.8h6.5M740.6 1568.8h-6.5M76.5 1486.6h6.5M740.6 1486.6h-6.5M76.5 1404.3h6.5M740.6 1404.3h-6.5" stroke="#2b2b2b" stroke-width="1.3" fill="none"/>
<text x="76.5" y="2013.6" font-size="21" text-anchor="middle" fill="#2b2b2b">0</text>
<text x="148.4" y="2013.6" font-size="21" text-anchor="middle" fill="#2b2b2b">10</text>
<text x="220.3" y="2013.6" font-size="21" text-anchor="middle" fill="#2b2b2b">20</text>
<text x="292.2" y="2013.6" font-size="21" text-anchor="middle" fill="#2b2b2b">30</text>
<text x="364.1" y="2013.6" font-size="21" text-anchor="middle" fill="#2b2b2b">40</text>
<text x="436" y="2013.6" font-size="21" text-anchor="middle" fill="#2b2b2b">50</text>
<text x="507.9" y="2013.6" font-size="21" text-anchor="middle" fill="#2b2b2b">60</text>
<text x="579.8" y="2013.6" font-size="21" text-anchor="middle" fill="#2b2b2b">70</text>
<text x="651.7" y="2013.6" font-size="21" text-anchor="middle" fill="#2b2b2b">80</text>
<text x="723.6" y="2013.6" font-size="21" text-anchor="middle" fill="#2b2b2b">90</text>
<text x="65.3" y="1990.2" font-size="21" text-anchor="end" fill="#2b2b2b">-1</text>
<text x="65.3" y="1907.9" font-size="21" text-anchor="end" fill="#2b2b2b">0</text>
<text x="65.3" y="1825.7" font-size="21" text-anchor="end" fill="#2b2b2b">1</text>
<text x="65.3" y="1743.4" font-size="21" text-anchor="end" fill="#2b2b2b">2</text>
<text x="65.3" y="1661.1" font-size="21" text-anchor="end" fill="#2b2b2b">3</text>
<text x="65.3" y="1578.8" font-size="21" text-anchor="end" fill="#2b2b2b">4</text>
<text x="65.3" y="1496.6" font-size="21" text-anchor="end" fill="#2b2b2b">5</text>
<text x="65.3" y="1414.3" font-size="21" text-anchor="end" fill="#2b2b2b">6</text>
<rect x="760.7" y="1404.3" width="34.6" height="575.9" fill="url(#gd)" stroke="#2b2b2b" stroke-width="1.3"/>
<path d="M795.3 1980.2h-3.5M795.3 1884.2h-3.5M795.3 1788.2h-3.5M795.3 1692.2h-3.5M795.3 1596.3h-3.5M795.3 1500.3h-3.5M795.3 1404.3h-3.5" stroke="#2b2b2b" stroke-width="1.3" fill="none"/>
<text x="804.5" y="1988.1" font-size="20" fill="#2b2b2b">0</text>
<text x="804.5" y="1892.1" font-size="20" fill="#2b2b2b">0.5</text>
<text x="804.5" y="1796.1" font-size="20" fill="#2b2b2b">1</text>
<text x="804.5" y="1700.2" font-size="20" fill="#2b2b2b">1.5</text>
<text x="804.5" y="1604.2" font-size="20" fill="#2b2b2b">2</text>
<text x="804.5" y="1508.2" font-size="20" fill="#2b2b2b">2.5</text>
<text x="804.5" y="1412.2" font-size="20" fill="#2b2b2b">3</text>
<rect x="446" y="1422.8" width="275.5" height="50.8" fill="#fff" stroke="#262626" stroke-width="1.3"/>
<ellipse cx="485.5" cy="1448.7" rx="33" ry="18.4" fill="#ffff66"/>
<ellipse cx="486.5" cy="1448.7" rx="23" ry="12.7" fill="#74b566"/>
<ellipse cx="486.5" cy="1448.7" rx="11.5" ry="6.2" fill="#008066"/>
<text x="525.5" y="1462.5" font-size="36.6" font-weight="bold" fill="#000">CI index (-)</text>
<text x="409.5" y="2059.3" font-size="36.2" font-weight="bold" text-anchor="middle" fill="#262626">Time (d)</text>
<text x="0" y="0" transform="translate(31.2 1689.6) rotate(-90)" font-size="36.2" font-weight="bold" text-anchor="middle" fill="#262626">Temperature (°C)</text>
<text transform="translate(-0.95 1390.9) scale(1.12 1)" font-size="40" font-weight="bold">d</text>
<text transform="translate(253.4 1651.1) rotate(-41.50)" font-size="29.4">No symptoms</text>
<text transform="translate(416.5 1804.5) rotate(-44.00)" font-size="29.4">Slight pitting</text>
<text transform="translate(530.9 1931.8) rotate(-39.50)" font-size="29.4">Moderate pitting</text>
<text transform="translate(643.3 1955.5) rotate(-39.50)" font-size="29.4">Severe</text>
<text transform="translate(669.2 1974.3) rotate(-39.50)" font-size="29.4">pitting</text>
</g>
<g id="panel-e">
<rect x="985.7" y="1397.6" width="663.2" height="575.4" fill="#ffffd5"/>
<polygon points="1010.6,1973 1011.1,1959.3 1011.5,1945.6 1012,1931.9 1012.5,1918.2 1013.1,1904.5 1013.7,1890.8 1014.3,1877.1 1015,1863.4 1015.8,1849.7 1016.6,1836 1017.5,1822.3 1018.4,1808.6 1019.5,1794.9 1020.6,1781.2 1021.8,1767.5 1023.2,1753.8 1024.8,1740.1 1026.6,1726.4 1028.7,1712.7 1031,1699 1033.5,1685.3 1036.3,1671.6 1039.1,1657.9 1042,1644.2 1044.8,1630.5 1047.6,1616.8 1050.5,1603.1 1053.4,1589.4 1056.5,1575.7 1059.8,1562 1063.4,1548.3 1067.3,1534.6 1071.4,1520.9 1075.7,1507.2 1080,1493.5 1084.2,1479.8 1088.4,1466.1 1092.4,1452.4 1096.3,1438.7 1100.1,1425 1104,1411.3 1107.9,1397.6 1648.9,1397.6 1648.9,1973" fill="#ffffaa"/>
<polygon points="1036.2,1973 1037.1,1959.3 1038,1945.6 1039,1931.9 1040,1918.2 1041.1,1904.5 1042.3,1890.8 1043.6,1877.1 1045.1,1863.4 1046.6,1849.7 1048.3,1836 1050.1,1822.3 1052,1808.6 1054.1,1794.9 1056.3,1781.2 1058.8,1767.5 1061.6,1753.8 1064.8,1740.1 1068.5,1726.4 1072.7,1712.7 1077.4,1699 1082.6,1685.3 1088.1,1671.6 1093.9,1657.9 1099.7,1644.2 1105.5,1630.5 1111.2,1616.8 1116.9,1603.1 1122.9,1589.4 1129.1,1575.7 1135.8,1562 1143.1,1548.3 1151,1534.6 1159.3,1520.9 1167.9,1507.2 1176.6,1493.5 1185.3,1479.8 1193.7,1466.1 1201.8,1452.4 1209.7,1438.7 1217.5,1425 1225.3,1411.3 1233.2,1397.6 1648.9,1397.6 1648.9,1973" fill="#ffff80"/>
<polygon points="1061.8,1973 1063.2,1959.3 1064.6,1945.6 1066.1,1931.9 1067.6,1918.2 1069.3,1904.5 1071.1,1890.8 1073.1,1877.1 1075.3,1863.4 1077.6,1849.7 1080.1,1836 1082.8,1822.3 1085.7,1808.6 1088.9,1794.9 1092.3,1781.2 1096,1767.5 1100.3,1753.8 1105.1,1740.1 1110.6,1726.4 1117,1712.7 1124.1,1699 1131.9,1685.3 1140.3,1671.6 1148.9,1657.9 1157.7,1644.2 1166.4,1630.5 1175,1616.8 1183.7,1603.1 1192.6,1589.4 1202,1575.7 1212.2,1562 1223.2,1548.3 1235.1,1534.6 1247.6,1520.9 1260.6,1507.2 1273.8,1493.5 1286.8,1479.8 1299.5,1466.1 1311.7,1452.4 1323.6,1438.7 1335.4,1425 1347.1,1411.3 1359.1,1397.6 1648.9,1397.6 1648.9,1973" fill="#ffff55"/>
<polygon points="1087.6,1973 1089.4,1959.3 1091.3,1945.6 1093.3,1931.9 1095.4,1918.2 1097.6,1904.5 1100.1,1890.8 1102.7,1877.1 1105.6,1863.4 1108.7,1849.7 1112.1,1836 1115.7,1822.3 1119.6,1808.6 1123.8,1794.9 1128.4,1781.2 1133.4,1767.5 1139.1,1753.8 1145.5,1740.1 1152.9,1726.4 1161.4,1712.7 1171,1699 1181.4,1685.3 1192.6,1671.6 1204.2,1657.9 1216,1644.2 1227.6,1630.5 1239.1,1616.8 1250.8,1603.1 1262.7,1589.4 1275.3,1575.7 1288.9,1562 1303.6,1548.3 1319.5,1534.6 1336.3,1520.9 1353.7,1507.2 1371.4,1493.5 1388.8,1479.8 1405.8,1466.1 1422.1,1452.4 1438.1,1438.7 1453.8,1425 1469.6,1411.3 1485.5,1397.6 1648.9,1397.6 1648.9,1973" fill="#ffff2a"/>
<polygon points="1113.5,1973 1115.8,1959.3 1118.2,1945.6 1120.6,1931.9 1123.3,1918.2 1126.1,1904.5 1129.1,1890.8 1132.4,1877.1 1136.1,1863.4 1140,1849.7 1144.2,1836 1148.8,1822.3 1153.7,1808.6 1158.9,1794.9 1164.6,1781.2 1170.9,1767.5 1178.1,1753.8 1186.1,1740.1 1195.4,1726.4 1206.1,1712.7 1218.1,1699 1231.2,1685.3 1245.2,1671.6 1259.8,1657.9 1274.5,1644.2 1289.1,1630.5 1303.5,1616.8 1318.1,1603.1 1333.2,1589.4 1349,1575.7 1365.9,1562 1384.4,1548.3 1404.4,1534.6 1425.4,1520.9 1447.3,1507.2 1469.4,1493.5 1491.3,1479.8 1512.5,1466.1 1533.1,1452.4 1553.1,1438.7 1572.8,1425 1592.6,1411.3 1612.6,1397.6 1648.9,1397.6 1648.9,1973" fill="#ffff00"/>
<polygon points="1139.6,1973 1142.3,1959.3 1145.2,1945.6 1148.1,1931.9 1151.3,1918.2 1154.7,1904.5 1158.3,1890.8 1162.3,1877.1 1166.7,1863.4 1171.4,1849.7 1176.5,1836 1182,1822.3 1187.9,1808.6 1194.2,1794.9 1201.1,1781.2 1208.7,1767.5 1217.2,1753.8 1227,1740.1 1238.1,1726.4 1251,1712.7 1265.4,1699 1281.2,1685.3 1298,1671.6 1315.6,1657.9 1333.3,1644.2 1350.9,1630.5 1368.3,1616.8 1385.8,1603.1 1403.9,1589.4 1422.9,1575.7 1443.4,1562 1465.6,1548.3 1489.6,1534.6 1515,1520.9 1541.2,1507.2 1567.9,1493.5 1594.3,1479.8 1619.8,1466.1 1644.5,1452.4 1648.9,1449.9 1648.9,1973" fill="#ffe300"/>
<polygon points="1165.7,1973 1168.9,1959.3 1172.3,1945.6 1175.7,1931.9 1179.4,1918.2 1183.4,1904.5 1187.7,1890.8 1192.3,1877.1 1197.4,1863.4 1203,1849.7 1208.9,1836 1215.4,1822.3 1222.2,1808.6 1229.6,1794.9 1237.7,1781.2 1246.6,1767.5 1256.6,1753.8 1268,1740.1 1281,1726.4 1296.1,1712.7 1312.9,1699 1331.4,1685.3 1351.1,1671.6 1371.6,1657.9 1392.4,1644.2 1412.9,1630.5 1433.3,1616.8 1453.8,1603.1 1475,1589.4 1497.2,1575.7 1521.1,1562 1547.2,1548.3 1575.3,1534.6 1604.9,1520.9 1635.6,1507.2 1648.9,1501.4 1648.9,1973" fill="#ffc600"/>
<polygon points="1192,1973 1195.7,1959.3 1199.5,1945.6 1203.5,1931.9 1207.7,1918.2 1212.2,1904.5 1217.1,1890.8 1222.5,1877.1 1228.4,1863.4 1234.7,1849.7 1241.5,1836 1248.9,1822.3 1256.7,1808.6 1265.2,1794.9 1274.4,1781.2 1284.6,1767.5 1296.1,1753.8 1309.1,1740.1 1324.1,1726.4 1341.3,1712.7 1360.7,1699 1381.9,1685.3 1404.4,1671.6 1428,1657.9 1451.8,1644.2 1475.3,1630.5 1498.6,1616.8 1522.2,1603.1 1546.4,1589.4 1571.9,1575.7 1599.3,1562 1629.1,1548.3 1648.9,1539.8 1648.9,1973" fill="#ffaa00"/>
<polygon points="1218.4,1973 1222.5,1959.3 1226.8,1945.6 1231.3,1931.9 1236.1,1918.2 1241.2,1904.5 1246.7,1890.8 1252.8,1877.1 1259.4,1863.4 1266.5,1849.7 1274.2,1836 1282.5,1822.3 1291.4,1808.6 1301,1794.9 1311.4,1781.2 1322.9,1767.5 1335.8,1753.8 1350.5,1740.1 1367.4,1726.4 1386.8,1712.7 1408.7,1699 1432.5,1685.3 1458,1671.6 1484.5,1657.9 1511.4,1644.2 1537.9,1630.5 1564.2,1616.8 1590.8,1603.1 1618.1,1589.4 1646.9,1575.7 1648.9,1574.8 1648.9,1973" fill="#ff8e00"/>
<polygon points="1244.9,1973 1249.5,1959.3 1254.3,1945.6 1259.3,1931.9 1264.6,1918.2 1270.3,1904.5 1276.5,1890.8 1283.2,1877.1 1290.6,1863.4 1298.5,1849.7 1307.1,1836 1316.4,1822.3 1326.3,1808.6 1336.9,1794.9 1348.5,1781.2 1361.3,1767.5 1375.7,1753.8 1392.1,1740.1 1410.9,1726.4 1432.5,1712.7 1456.9,1699 1483.4,1685.3 1511.8,1671.6 1541.4,1657.9 1571.3,1644.2 1600.8,1630.5 1630.1,1616.8 1648.9,1608.1 1648.9,1973" fill="#ff7100"/>
<polygon points="1271.5,1973 1276.6,1959.3 1281.9,1945.6 1287.4,1931.9 1293.3,1918.2 1299.5,1904.5 1306.4,1890.8 1313.8,1877.1 1321.9,1863.4 1330.7,1849.7 1340.1,1836 1350.3,1822.3 1361.2,1808.6 1373,1794.9 1385.7,1781.2 1399.9,1767.5 1415.8,1753.8 1433.8,1740.1 1454.6,1726.4 1478.5,1712.7 1505.3,1699 1534.6,1685.3 1565.9,1671.6 1598.5,1657.9 1631.4,1644.2 1648.9,1636.9 1648.9,1973" fill="#ff5500"/>
<polygon points="1298.3,1973 1303.9,1959.3 1309.6,1945.6 1315.6,1931.9 1322,1918.2 1328.9,1904.5 1336.4,1890.8 1344.5,1877.1 1353.4,1863.4 1363,1849.7 1373.3,1836 1384.5,1822.3 1396.4,1808.6 1409.2,1794.9 1423.2,1781.2 1438.6,1767.5 1456,1753.8 1475.8,1740.1 1498.5,1726.4 1524.6,1712.7 1553.9,1699 1586,1685.3 1620.2,1671.6 1648.9,1660.5 1648.9,1973" fill="#ff3900"/>
<polygon points="1325.1,1973 1331.2,1959.3 1337.5,1945.6 1344,1931.9 1351,1918.2 1358.4,1904.5 1366.5,1890.8 1375.3,1877.1 1385,1863.4 1395.4,1849.7 1406.6,1836 1418.7,1822.3 1431.7,1808.6 1445.6,1794.9 1460.8,1781.2 1477.6,1767.5 1496.4,1753.8 1517.9,1740.1 1542.6,1726.4 1570.9,1712.7 1602.7,1699 1637.6,1685.3 1648.9,1681 1648.9,1973" fill="#ff1c00"/>
<polygon points="1352.1,1973 1358.7,1959.3 1365.4,1945.6 1372.5,1931.9 1380,1918.2 1388.1,1904.5 1396.8,1890.8 1406.3,1877.1 1416.7,1863.4 1428,1849.7 1440.1,1836 1453.2,1822.3 1467.2,1808.6 1482.2,1794.9 1498.6,1781.2 1516.7,1767.5 1537.1,1753.8 1560.2,1740.1 1586.8,1726.4 1617.4,1712.7 1648.9,1700.1 1648.9,1973" fill="#ff0000"/>
<polygon points="1379.2,1973 1386.3,1959.3 1393.5,1945.6 1401.1,1931.9 1409.2,1918.2 1417.8,1904.5 1427.2,1890.8 1437.5,1877.1 1448.6,1863.4 1460.7,1849.7 1473.7,1836 1487.7,1822.3 1502.8,1808.6 1518.9,1794.9 1536.5,1781.2 1556,1767.5 1577.9,1753.8 1602.7,1740.1 1631.3,1726.4 1648.9,1718.8 1648.9,1973" fill="#e30000"/>
<polygon points="1406.5,1973 1414,1959.3 1421.7,1945.6 1429.9,1931.9 1438.5,1918.2 1447.7,1904.5 1457.8,1890.8 1468.7,1877.1 1480.6,1863.4 1493.6,1849.7 1507.5,1836 1522.5,1822.3 1538.6,1808.6 1555.8,1794.9 1574.6,1781.2 1595.4,1767.5 1618.8,1753.8 1645.4,1740.1 1648.9,1738.4 1648.9,1973" fill="#c60000"/>
<polygon points="1433.8,1973 1441.8,1959.3 1450.1,1945.6 1458.7,1931.9 1467.9,1918.2 1477.8,1904.5 1488.4,1890.8 1500.1,1877.1 1512.8,1863.4 1526.6,1849.7 1541.4,1836 1557.4,1822.3 1574.5,1808.6 1592.9,1794.9 1612.9,1781.2 1635.1,1767.5 1648.9,1759.7 1648.9,1973" fill="#aa0000"/>
<polygon points="1461.3,1973 1469.8,1959.3 1478.6,1945.6 1487.7,1931.9 1497.5,1918.2 1507.9,1904.5 1519.3,1890.8 1531.6,1877.1 1545.1,1863.4 1559.7,1849.7 1575.5,1836 1592.4,1822.3 1610.6,1808.6 1630.1,1794.9 1648.9,1782.7 1648.9,1973" fill="#8e0000"/>
<polygon points="1488.9,1973 1497.9,1959.3 1507.1,1945.6 1516.9,1931.9 1527.2,1918.2 1538.2,1904.5 1550.2,1890.8 1563.3,1877.1 1577.6,1863.4 1593,1849.7 1609.7,1836 1627.6,1822.3 1646.8,1808.6 1648.9,1807.2 1648.9,1973" fill="#710000"/>
<polygon points="1516.6,1973 1526.1,1959.3 1535.9,1945.6 1546.1,1931.9 1557,1918.2 1568.6,1904.5 1581.3,1890.8 1595.1,1877.1 1610.2,1863.4 1626.5,1849.7 1644,1836 1648.9,1832.4 1648.9,1973" fill="#550000"/>
<polygon points="1544.4,1973 1554.4,1959.3 1564.7,1945.6 1575.5,1931.9 1586.9,1918.2 1599.2,1904.5 1612.5,1890.8 1627.1,1877.1 1642.9,1863.4 1648.9,1858.5 1648.9,1973" fill="#390000"/>
<polygon points="1572.4,1973 1582.8,1959.3 1593.7,1945.6 1605,1931.9 1617,1918.2 1629.9,1904.5 1643.9,1890.8 1648.9,1886.2 1648.9,1973" fill="#1c0000"/>
<polygon points="1600.4,1973 1611.4,1959.3 1622.7,1945.6 1634.6,1931.9 1647.2,1918.2 1648.9,1916.4 1648.9,1973" fill="#000000"/>
<polygon points="1628.6,1973 1640.1,1959.3 1648.9,1949.1 1648.9,1973" fill="#000000"/>
<rect x="985.7" y="1397.6" width="663.2" height="575.4" fill="none" stroke="#2b2b2b" stroke-width="1.3"/>
<path d="M985.7 1973v-6.5M985.7 1397.6v6.5M1057.5 1973v-6.5M1057.5 1397.6v6.5M1129.3 1973v-6.5M1129.3 1397.6v6.5M1201.1 1973v-6.5M1201.1 1397.6v6.5M1272.9 1973v-6.5M1272.9 1397.6v6.5M1344.7 1973v-6.5M1344.7 1397.6v6.5M1416.5 1973v-6.5M1416.5 1397.6v6.5M1488.3 1973v-6.5M1488.3 1397.6v6.5M1560.1 1973v-6.5M1560.1 1397.6v6.5M1632 1973v-6.5M1632 1397.6v6.5M985.7 1973h6.5M1648.9 1973h-6.5M985.7 1890.8h6.5M1648.9 1890.8h-6.5M985.7 1808.6h6.5M1648.9 1808.6h-6.5M985.7 1726.4h6.5M1648.9 1726.4h-6.5M985.7 1644.2h6.5M1648.9 1644.2h-6.5M985.7 1562h6.5M1648.9 1562h-6.5M985.7 1479.8h6.5M1648.9 1479.8h-6.5M985.7 1397.6h6.5M1648.9 1397.6h-6.5" stroke="#2b2b2b" stroke-width="1.3" fill="none"/>
<text x="985.7" y="2006.7" font-size="21" text-anchor="middle" fill="#2b2b2b">0</text>
<text x="1057.5" y="2006.7" font-size="21" text-anchor="middle" fill="#2b2b2b">10</text>
<text x="1129.3" y="2006.7" font-size="21" text-anchor="middle" fill="#2b2b2b">20</text>
<text x="1201.1" y="2006.7" font-size="21" text-anchor="middle" fill="#2b2b2b">30</text>
<text x="1272.9" y="2006.7" font-size="21" text-anchor="middle" fill="#2b2b2b">40</text>
<text x="1344.7" y="2006.7" font-size="21" text-anchor="middle" fill="#2b2b2b">50</text>
<text x="1416.5" y="2006.7" font-size="21" text-anchor="middle" fill="#2b2b2b">60</text>
<text x="1488.3" y="2006.7" font-size="21" text-anchor="middle" fill="#2b2b2b">70</text>
<text x="1560.1" y="2006.7" font-size="21" text-anchor="middle" fill="#2b2b2b">80</text>
<text x="1632" y="2006.7" font-size="21" text-anchor="middle" fill="#2b2b2b">90</text>
<text x="973.7" y="1983" font-size="21" text-anchor="end" fill="#2b2b2b">-1</text>
<text x="973.7" y="1900.8" font-size="21" text-anchor="end" fill="#2b2b2b">0</text>
<text x="973.7" y="1818.6" font-size="21" text-anchor="end" fill="#2b2b2b">1</text>
<text x="973.7" y="1736.4" font-size="21" text-anchor="end" fill="#2b2b2b">2</text>
<text x="973.7" y="1654.2" font-size="21" text-anchor="end" fill="#2b2b2b">3</text>
<text x="973.7" y="1572" font-size="21" text-anchor="end" fill="#2b2b2b">4</text>
<text x="973.7" y="1489.8" font-size="21" text-anchor="end" fill="#2b2b2b">5</text>
<text x="973.7" y="1407.6" font-size="21" text-anchor="end" fill="#2b2b2b">6</text>
<rect x="1669" y="1397.6" width="35" height="575.4" fill="url(#ge)" stroke="#2b2b2b" stroke-width="1.3"/>
<path d="M1704 1951.8h-3.5M1704 1859.6h-3.5M1704 1767.4h-3.5M1704 1675.2h-3.5M1704 1583h-3.5M1704 1490.8h-3.5M1704 1398.6h-3.5" stroke="#2b2b2b" stroke-width="1.3" fill="none"/>
<text x="1713" y="1959.7" font-size="20" fill="#2b2b2b">0</text>
<text x="1713" y="1867.5" font-size="20" fill="#2b2b2b">2</text>
<text x="1713" y="1775.3" font-size="20" fill="#2b2b2b">4</text>
<text x="1713" y="1683.1" font-size="20" fill="#2b2b2b">6</text>
<text x="1713" y="1590.9" font-size="20" fill="#2b2b2b">8</text>
<text x="1713" y="1498.7" font-size="20" fill="#2b2b2b">10</text>
<text x="1713" y="1406.5" font-size="20" fill="#2b2b2b">12</text>
<rect x="1065.4" y="1416.6" width="565" height="51.2" fill="#fff" stroke="#262626" stroke-width="1.3"/>
<ellipse cx="1105.8" cy="1442.5" rx="22.5" ry="12.1" fill="#f26414"/>
<ellipse cx="1105.8" cy="1442.5" rx="11.5" ry="6.1" fill="#000"/>
<text x="1146" y="1456.6" font-size="36.4" font-weight="bold" fill="#000">Probability of incidence (%)</text>
<text x="1318" y="2052.5" font-size="36.2" font-weight="bold" text-anchor="middle" fill="#262626">Time (d)</text>
<text x="0" y="0" transform="translate(940.2 1685.1) rotate(-90)" font-size="36.2" font-weight="bold" text-anchor="middle" fill="#262626">Temperature (°C)</text>
<text transform="translate(926.3 1390.1) scale(1.12 1)" font-size="40" font-weight="bold">e</text>
</g>
</svg>
</body></html>
